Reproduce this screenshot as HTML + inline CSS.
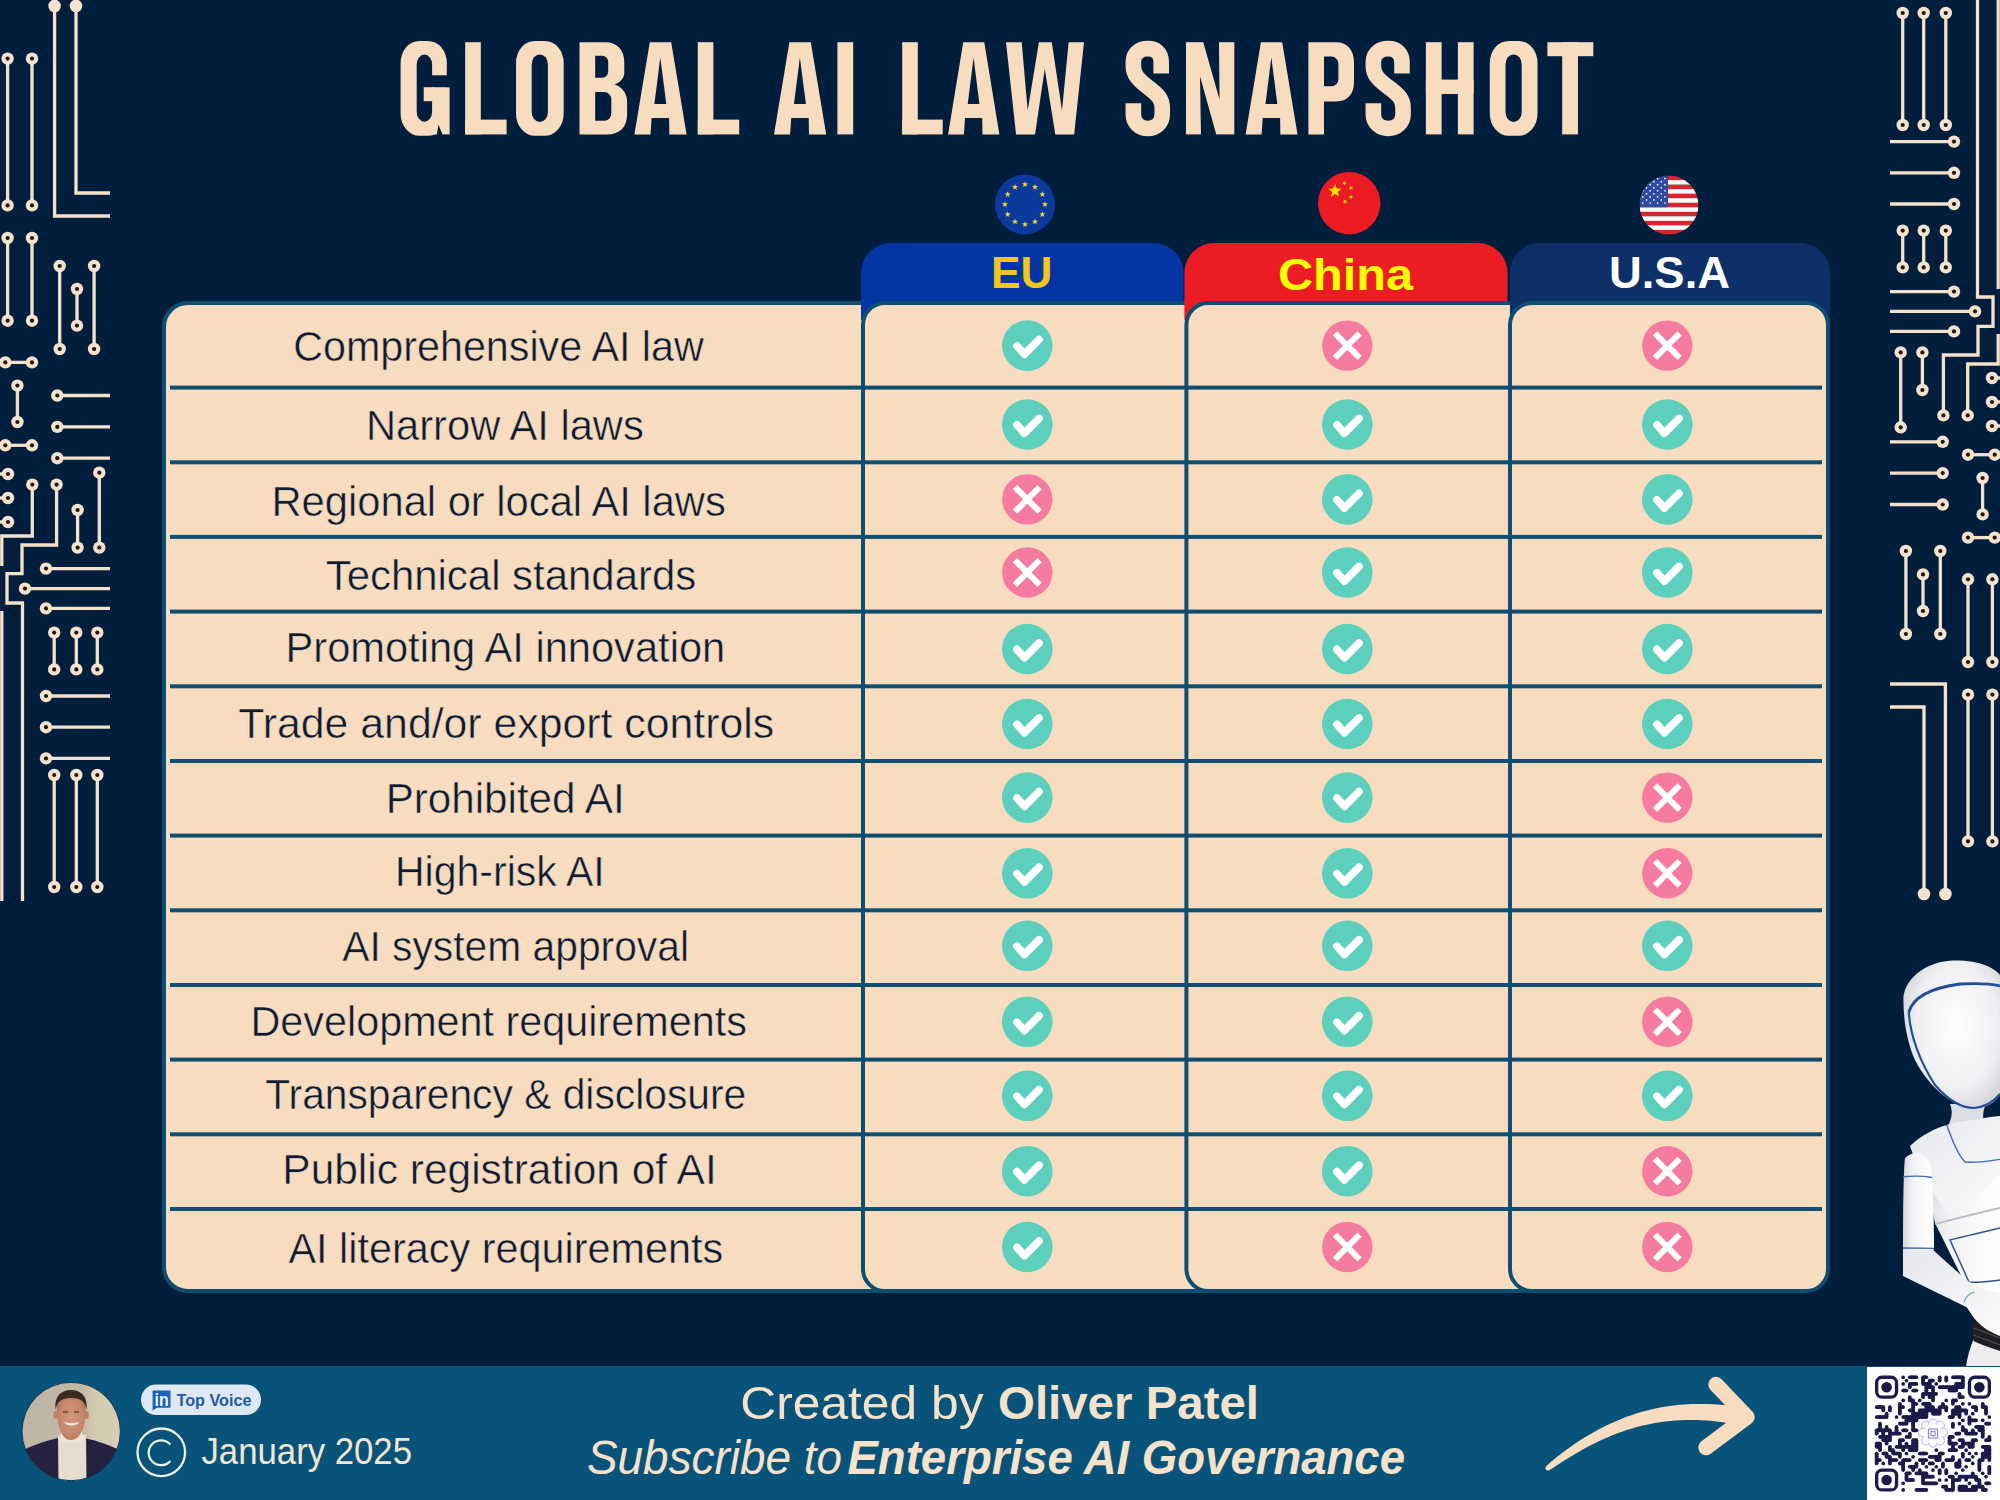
<!DOCTYPE html><html><head><meta charset="utf-8"><title>Global AI Law Snapshot</title>
<style>html,body{margin:0;padding:0;background:#011f3c;}body{width:2000px;height:1500px;overflow:hidden;}svg{display:block;}text{font-family:"Liberation Sans",sans-serif;}</style></head><body>
<svg width="2000" height="1500" viewBox="0 0 2000 1500">
<rect width="2000" height="1500" fill="#011f3c"/>
<defs><g id="circ"><g fill="none" stroke="#f4e2cd" stroke-width="3.3"><path d="M54.6,6 L54.6,216 L110,216"/><path d="M76,6 L76,193 L110,193"/><path d="M7.6,58.6 L7.6,205.4"/><path d="M7.6,238 L7.6,320.7"/><path d="M32,58.6 L32,205.4"/><path d="M32,238 L32,320.7"/><path d="M59.7,266 L59.7,349"/><path d="M77,289 L77,325.6"/><path d="M94.1,266 L94.1,349"/><path d="M5.3,362.4 L32,362.4"/><path d="M17.4,385.6 L17.4,422"/><path d="M57.3,395.5 L110,395.5"/><path d="M57.3,426.9 L110,426.9"/><path d="M57.3,458.2 L110,458.2"/><path d="M5.3,445.3 L32,445.3"/><path d="M-2,474 L8,474"/><path d="M-2,498 L8,498"/><path d="M-2,522 L8,522"/><path d="M99.3,472.7 L99.3,547.6"/><path d="M77.6,510 L77.6,547.6"/><path d="M32.3,484.6 L32.3,536 L1.8,536 L1.8,566"/><path d="M56.6,484.6 L56.6,545 L22,545 L22,573.6 L7,573.6 L7,603 L22.5,603 L22.5,901"/><path d="M46,568.6 L110,568.6"/><path d="M25,588.6 L110,588.6"/><path d="M46,608.4 L110,608.4"/><path d="M1.8,611 L1.8,901"/><path d="M54.2,632.6 L54.2,669.4"/><path d="M76.3,632.6 L76.3,669.4"/><path d="M97.3,632.6 L97.3,669.4"/><path d="M46,696 L110,696"/><path d="M46,727.2 L110,727.2"/><path d="M46,758.4 L110,758.4"/><path d="M54.2,775 L54.2,887"/><path d="M76.3,775 L76.3,887"/><path d="M97.3,775 L97.3,887"/></g><circle cx="54.6" cy="6" r="6.3" fill="#f4e2cd"/><circle cx="76" cy="6" r="6.3" fill="#f4e2cd"/><circle cx="7.6" cy="58.6" r="6.2" fill="#f4e2cd"/><circle cx="7.6" cy="58.6" r="2.1" fill="#22160f"/><circle cx="7.6" cy="205.4" r="6.2" fill="#f4e2cd"/><circle cx="7.6" cy="205.4" r="2.1" fill="#22160f"/><circle cx="7.6" cy="238" r="6.2" fill="#f4e2cd"/><circle cx="7.6" cy="238" r="2.1" fill="#22160f"/><circle cx="7.6" cy="320.7" r="6.2" fill="#f4e2cd"/><circle cx="7.6" cy="320.7" r="2.1" fill="#22160f"/><circle cx="32" cy="58.6" r="6.2" fill="#f4e2cd"/><circle cx="32" cy="58.6" r="2.1" fill="#22160f"/><circle cx="32" cy="205.4" r="6.2" fill="#f4e2cd"/><circle cx="32" cy="205.4" r="2.1" fill="#22160f"/><circle cx="32" cy="238" r="6.2" fill="#f4e2cd"/><circle cx="32" cy="238" r="2.1" fill="#22160f"/><circle cx="32" cy="320.7" r="6.2" fill="#f4e2cd"/><circle cx="32" cy="320.7" r="2.1" fill="#22160f"/><circle cx="59.7" cy="266" r="6.2" fill="#f4e2cd"/><circle cx="59.7" cy="266" r="2.1" fill="#22160f"/><circle cx="59.7" cy="349" r="6.2" fill="#f4e2cd"/><circle cx="59.7" cy="349" r="2.1" fill="#22160f"/><circle cx="77" cy="289" r="6.2" fill="#f4e2cd"/><circle cx="77" cy="289" r="2.1" fill="#22160f"/><circle cx="77" cy="325.6" r="6.2" fill="#f4e2cd"/><circle cx="77" cy="325.6" r="2.1" fill="#22160f"/><circle cx="94.1" cy="266" r="6.2" fill="#f4e2cd"/><circle cx="94.1" cy="266" r="2.1" fill="#22160f"/><circle cx="94.1" cy="349" r="6.2" fill="#f4e2cd"/><circle cx="94.1" cy="349" r="2.1" fill="#22160f"/><circle cx="5.3" cy="362.4" r="6.2" fill="#f4e2cd"/><circle cx="5.3" cy="362.4" r="2.1" fill="#22160f"/><circle cx="32" cy="362.4" r="6.2" fill="#f4e2cd"/><circle cx="32" cy="362.4" r="2.1" fill="#22160f"/><circle cx="17.4" cy="385.6" r="6.2" fill="#f4e2cd"/><circle cx="17.4" cy="385.6" r="2.1" fill="#22160f"/><circle cx="17.4" cy="422" r="6.2" fill="#f4e2cd"/><circle cx="17.4" cy="422" r="2.1" fill="#22160f"/><circle cx="57.3" cy="395.5" r="6.2" fill="#f4e2cd"/><circle cx="57.3" cy="395.5" r="2.1" fill="#22160f"/><circle cx="57.3" cy="426.9" r="6.2" fill="#f4e2cd"/><circle cx="57.3" cy="426.9" r="2.1" fill="#22160f"/><circle cx="57.3" cy="458.2" r="6.2" fill="#f4e2cd"/><circle cx="57.3" cy="458.2" r="2.1" fill="#22160f"/><circle cx="5.3" cy="445.3" r="6.2" fill="#f4e2cd"/><circle cx="5.3" cy="445.3" r="2.1" fill="#22160f"/><circle cx="32" cy="445.3" r="6.2" fill="#f4e2cd"/><circle cx="32" cy="445.3" r="2.1" fill="#22160f"/><circle cx="8" cy="474" r="6.2" fill="#f4e2cd"/><circle cx="8" cy="474" r="2.1" fill="#22160f"/><circle cx="8" cy="498" r="6.2" fill="#f4e2cd"/><circle cx="8" cy="498" r="2.1" fill="#22160f"/><circle cx="8" cy="522" r="6.2" fill="#f4e2cd"/><circle cx="8" cy="522" r="2.1" fill="#22160f"/><circle cx="99.3" cy="472.7" r="6.2" fill="#f4e2cd"/><circle cx="99.3" cy="472.7" r="2.1" fill="#22160f"/><circle cx="99.3" cy="547.6" r="6.2" fill="#f4e2cd"/><circle cx="99.3" cy="547.6" r="2.1" fill="#22160f"/><circle cx="77.6" cy="510" r="6.2" fill="#f4e2cd"/><circle cx="77.6" cy="510" r="2.1" fill="#22160f"/><circle cx="77.6" cy="547.6" r="6.2" fill="#f4e2cd"/><circle cx="77.6" cy="547.6" r="2.1" fill="#22160f"/><circle cx="32.3" cy="484.6" r="6.2" fill="#f4e2cd"/><circle cx="32.3" cy="484.6" r="2.1" fill="#22160f"/><circle cx="56.6" cy="484.6" r="6.2" fill="#f4e2cd"/><circle cx="56.6" cy="484.6" r="2.1" fill="#22160f"/><circle cx="46" cy="568.6" r="6.2" fill="#f4e2cd"/><circle cx="46" cy="568.6" r="2.1" fill="#22160f"/><circle cx="25" cy="588.6" r="6.2" fill="#f4e2cd"/><circle cx="25" cy="588.6" r="2.1" fill="#22160f"/><circle cx="46" cy="608.4" r="6.2" fill="#f4e2cd"/><circle cx="46" cy="608.4" r="2.1" fill="#22160f"/><circle cx="54.2" cy="632.6" r="6.2" fill="#f4e2cd"/><circle cx="54.2" cy="632.6" r="2.1" fill="#22160f"/><circle cx="54.2" cy="669.4" r="6.2" fill="#f4e2cd"/><circle cx="54.2" cy="669.4" r="2.1" fill="#22160f"/><circle cx="76.3" cy="632.6" r="6.2" fill="#f4e2cd"/><circle cx="76.3" cy="632.6" r="2.1" fill="#22160f"/><circle cx="76.3" cy="669.4" r="6.2" fill="#f4e2cd"/><circle cx="76.3" cy="669.4" r="2.1" fill="#22160f"/><circle cx="97.3" cy="632.6" r="6.2" fill="#f4e2cd"/><circle cx="97.3" cy="632.6" r="2.1" fill="#22160f"/><circle cx="97.3" cy="669.4" r="6.2" fill="#f4e2cd"/><circle cx="97.3" cy="669.4" r="2.1" fill="#22160f"/><circle cx="46" cy="696" r="6.2" fill="#f4e2cd"/><circle cx="46" cy="696" r="2.1" fill="#22160f"/><circle cx="46" cy="727.2" r="6.2" fill="#f4e2cd"/><circle cx="46" cy="727.2" r="2.1" fill="#22160f"/><circle cx="46" cy="758.4" r="6.2" fill="#f4e2cd"/><circle cx="46" cy="758.4" r="2.1" fill="#22160f"/><circle cx="54.2" cy="775" r="6.2" fill="#f4e2cd"/><circle cx="54.2" cy="775" r="2.1" fill="#22160f"/><circle cx="54.2" cy="887" r="6.2" fill="#f4e2cd"/><circle cx="54.2" cy="887" r="2.1" fill="#22160f"/><circle cx="76.3" cy="775" r="6.2" fill="#f4e2cd"/><circle cx="76.3" cy="775" r="2.1" fill="#22160f"/><circle cx="76.3" cy="887" r="6.2" fill="#f4e2cd"/><circle cx="76.3" cy="887" r="2.1" fill="#22160f"/><circle cx="97.3" cy="775" r="6.2" fill="#f4e2cd"/><circle cx="97.3" cy="775" r="2.1" fill="#22160f"/><circle cx="97.3" cy="887" r="6.2" fill="#f4e2cd"/><circle cx="97.3" cy="887" r="2.1" fill="#22160f"/></g></defs>
<use href="#circ"/>
<use href="#circ" transform="rotate(180 1000 450)"/>
<g><rect x="400.60" y="40.90" width="46.20" height="94.90" rx="19" ry="22" fill="#f8dcc0"/><rect x="433.50" y="87.20" width="16.10" height="47.20" fill="#f8dcc0"/><rect x="416.70" y="54.60" width="15.40" height="67.20" rx="7.7" ry="10" fill="#011f3c"/><rect x="431.10" y="75.30" width="19.50" height="11.90" fill="#011f3c"/><rect x="423.70" y="87.20" width="9.90" height="14.00" fill="#f8dcc0"/><polygon points="438.40,124.80 442.60,134.40 442.60,136.40 436.60,136.40" fill="#011f3c"/><rect x="465.20" y="42.20" width="15.60" height="92.20" fill="#f8dcc0"/><rect x="465.20" y="119.60" width="41.40" height="14.80" fill="#f8dcc0"/><rect x="516.00" y="40.90" width="47.70" height="94.90" rx="19" ry="22" fill="#f8dcc0"/><rect x="531.70" y="54.40" width="16.20" height="67.50" rx="8" ry="10" fill="#011f3c"/><path d="M579.50,42.2 H605.50 C617.50,42.2 624.30,50.2 624.30,62.2 V72.2 C624.30,78.2 620.50,82.2 614.50,84.2 C622.50,87.2 627.10,93.2 627.10,102.2 V114.4 C627.10,127.4 619.50,134.4 606.50,134.4 H579.50 Z" fill="#f8dcc0"/><path d="M595.20,55.7 H602.20 A6,6 0 0 1 608.20,61.7 V71.7 A6,6 0 0 1 602.20,77.7 H595.20 Z" fill="#011f3c"/><path d="M595.20,92.1 H604.30 A7,7 0 0 1 611.30,99.1 V113.8 A7,7 0 0 1 604.30,120.8 H595.20 Z" fill="#011f3c"/><polygon points="634.40,134.40 649.80,42.20 671.20,42.20 686.60,134.40 669.37,134.40 669.11,117.99 651.63,117.99 650.48,134.40" fill="#f8dcc0"/><polygon points="660.29,57.60 666.29,104.07 654.39,104.07" fill="#011f3c"/><rect x="697.80" y="42.20" width="15.60" height="92.20" fill="#f8dcc0"/><rect x="697.80" y="119.60" width="41.40" height="14.80" fill="#f8dcc0"/><polygon points="774.00,134.40 789.40,42.20 810.80,42.20 826.20,134.40 808.97,134.40 808.71,117.99 791.23,117.99 790.08,134.40" fill="#f8dcc0"/><polygon points="799.89,57.60 805.89,104.07 793.99,104.07" fill="#011f3c"/><rect x="837.40" y="42.20" width="15.80" height="92.20" fill="#f8dcc0"/><rect x="902.20" y="42.20" width="15.60" height="92.20" fill="#f8dcc0"/><rect x="902.20" y="119.60" width="40.50" height="14.80" fill="#f8dcc0"/><polygon points="948.10,134.40 963.23,42.20 984.27,42.20 999.40,134.40 982.47,134.40 982.21,117.99 965.03,117.99 963.90,134.40" fill="#f8dcc0"/><polygon points="973.54,57.60 979.44,104.07 967.75,104.07" fill="#011f3c"/><polygon points="1006.00,42.20 1021.68,42.20 1027.68,110.61 1038.92,42.20 1051.79,42.20 1062.00,110.61 1068.63,42.20 1084.00,42.20 1074.17,134.40 1055.30,134.40 1044.77,68.75 1035.02,134.40 1016.06,134.40" fill="#f8dcc0"/><path d="M1161.20,73.4 V62 C1161.20,53 1155.80,48.65 1147.80,48.65 C1139.80,48.65 1133.35,53 1133.35,62 V66 C1133.35,74 1137.35,79 1147.80,87 C1158.25,95 1162.25,99 1162.25,108 V114 C1162.25,123 1155.80,128.45 1147.80,128.45 C1139.80,128.45 1133.35,123 1133.35,114 V103.2" fill="none" stroke="#f8dcc0" stroke-width="15.6"/><rect x="1186.00" y="42.20" width="48.30" height="92.20" fill="#f8dcc0"/><polygon points="1203.10,41.70 1218.99,41.70 1219.52,99.58" fill="#011f3c"/><polygon points="1200.01,76.28 1200.97,134.90 1216.38,134.90" fill="#011f3c"/><polygon points="1245.60,134.40 1260.91,42.20 1282.19,42.20 1297.50,134.40 1280.37,134.40 1280.11,117.99 1262.73,117.99 1261.59,134.40" fill="#f8dcc0"/><polygon points="1271.34,57.60 1277.31,104.07 1265.48,104.07" fill="#011f3c"/><path d="M1308.40,134.4 V42.2 H1336.40 C1347.40,42.2 1354.00,50.2 1354.00,62.2 V82.2 C1354.00,94.2 1347.40,101.4 1336.40,101.4 H1324.00 V134.4 Z" fill="#f8dcc0"/><path d="M1324.00,56.6 H1331.40 A7,7 0 0 1 1338.40,63.6 V79.2 A7,7 0 0 1 1331.40,86.2 H1324.00 Z" fill="#011f3c"/><path d="M1402.00,73.4 V62 C1402.00,53 1396.20,48.65 1388.20,48.65 C1380.20,48.65 1373.35,53 1373.35,62 V66 C1373.35,74 1377.35,79 1388.20,87 C1399.05,95 1403.05,99 1403.05,108 V114 C1403.05,123 1396.20,128.45 1388.20,128.45 C1380.20,128.45 1373.35,123 1373.35,114 V103.2" fill="none" stroke="#f8dcc0" stroke-width="15.6"/><rect x="1425.90" y="42.20" width="15.70" height="92.20" fill="#f8dcc0"/><rect x="1457.90" y="42.20" width="15.70" height="92.20" fill="#f8dcc0"/><rect x="1425.90" y="79.60" width="47.70" height="14.40" fill="#f8dcc0"/><rect x="1489.80" y="40.90" width="47.70" height="94.90" rx="19" ry="22" fill="#f8dcc0"/><rect x="1505.50" y="54.40" width="16.20" height="67.50" rx="8" ry="10" fill="#011f3c"/><rect x="1547.40" y="42.20" width="45.90" height="14.00" fill="#f8dcc0"/><rect x="1562.17" y="42.20" width="15.80" height="92.20" fill="#f8dcc0"/></g>
<circle cx="1025" cy="204.4" r="30" fill="#0b3a9c"/><polygon points="1025.00,181.20 1025.79,183.31 1028.04,183.41 1026.28,184.82 1026.88,186.99 1025.00,185.74 1023.12,186.99 1023.72,184.82 1021.96,183.41 1024.21,183.31" fill="#f2d22e"/><polygon points="1035.00,183.88 1035.79,185.99 1038.04,186.09 1036.28,187.49 1036.88,189.67 1035.00,188.42 1033.12,189.67 1033.72,187.49 1031.96,186.09 1034.21,185.99" fill="#f2d22e"/><polygon points="1042.32,191.20 1043.11,193.31 1045.36,193.41 1043.60,194.82 1044.20,196.99 1042.32,195.74 1040.44,196.99 1041.04,194.82 1039.28,193.41 1041.53,193.31" fill="#f2d22e"/><polygon points="1045.00,201.20 1045.79,203.31 1048.04,203.41 1046.28,204.82 1046.88,206.99 1045.00,205.74 1043.12,206.99 1043.72,204.82 1041.96,203.41 1044.21,203.31" fill="#f2d22e"/><polygon points="1042.32,211.20 1043.11,213.31 1045.36,213.41 1043.60,214.82 1044.20,216.99 1042.32,215.74 1040.44,216.99 1041.04,214.82 1039.28,213.41 1041.53,213.31" fill="#f2d22e"/><polygon points="1035.00,218.52 1035.79,220.63 1038.04,220.73 1036.28,222.14 1036.88,224.31 1035.00,223.06 1033.12,224.31 1033.72,222.14 1031.96,220.73 1034.21,220.63" fill="#f2d22e"/><polygon points="1025.00,221.20 1025.79,223.31 1028.04,223.41 1026.28,224.82 1026.88,226.99 1025.00,225.74 1023.12,226.99 1023.72,224.82 1021.96,223.41 1024.21,223.31" fill="#f2d22e"/><polygon points="1015.00,218.52 1015.79,220.63 1018.04,220.73 1016.28,222.14 1016.88,224.31 1015.00,223.06 1013.12,224.31 1013.72,222.14 1011.96,220.73 1014.21,220.63" fill="#f2d22e"/><polygon points="1007.68,211.20 1008.47,213.31 1010.72,213.41 1008.96,214.82 1009.56,216.99 1007.68,215.74 1005.80,216.99 1006.40,214.82 1004.64,213.41 1006.89,213.31" fill="#f2d22e"/><polygon points="1005.00,201.20 1005.79,203.31 1008.04,203.41 1006.28,204.82 1006.88,206.99 1005.00,205.74 1003.12,206.99 1003.72,204.82 1001.96,203.41 1004.21,203.31" fill="#f2d22e"/><polygon points="1007.68,191.20 1008.47,193.31 1010.72,193.41 1008.96,194.82 1009.56,196.99 1007.68,195.74 1005.80,196.99 1006.40,194.82 1004.64,193.41 1006.89,193.31" fill="#f2d22e"/><polygon points="1015.00,183.88 1015.79,185.99 1018.04,186.09 1016.28,187.49 1016.88,189.67 1015.00,188.42 1013.12,189.67 1013.72,187.49 1011.96,186.09 1014.21,185.99" fill="#f2d22e"/>
<circle cx="1349.2" cy="203.2" r="31.2" fill="#ed1c24"/><polygon points="1335.00,184.00 1336.73,188.62 1341.66,188.84 1337.80,191.91 1339.11,196.66 1335.00,193.94 1330.89,196.66 1332.20,191.91 1328.34,188.84 1333.27,188.62" fill="#ffde00"/><polygon points="1345.33,180.79 1345.26,182.48 1346.79,183.21 1345.16,183.66 1344.94,185.34 1344.01,183.93 1342.34,184.24 1343.40,182.91 1342.59,181.43 1344.17,182.02" fill="#ffde00"/><polygon points="1352.72,186.33 1352.00,187.86 1353.12,189.12 1351.44,188.90 1350.59,190.36 1350.28,188.70 1348.62,188.34 1350.11,187.53 1349.94,185.85 1351.17,187.01" fill="#ffde00"/><polygon points="1353.37,196.59 1351.90,197.45 1352.12,199.12 1350.86,198.00 1349.33,198.72 1350.01,197.17 1348.85,195.94 1350.53,196.11 1351.34,194.62 1351.70,196.28" fill="#ffde00"/><polygon points="1347.27,202.38 1345.58,202.42 1344.96,204.00 1344.40,202.41 1342.71,202.31 1344.05,201.27 1343.62,199.64 1345.02,200.59 1346.44,199.68 1345.96,201.30" fill="#ffde00"/>
<defs><clipPath id="usc"><circle cx="1669" cy="205" r="29.4"/></clipPath></defs><g clip-path="url(#usc)"><rect x="1639.6" y="175.60" width="58.8" height="4.72" fill="#d8262e"/><rect x="1639.6" y="180.12" width="58.8" height="4.72" fill="#ffffff"/><rect x="1639.6" y="184.65" width="58.8" height="4.72" fill="#d8262e"/><rect x="1639.6" y="189.17" width="58.8" height="4.72" fill="#ffffff"/><rect x="1639.6" y="193.69" width="58.8" height="4.72" fill="#d8262e"/><rect x="1639.6" y="198.22" width="58.8" height="4.72" fill="#ffffff"/><rect x="1639.6" y="202.74" width="58.8" height="4.72" fill="#d8262e"/><rect x="1639.6" y="207.26" width="58.8" height="4.72" fill="#ffffff"/><rect x="1639.6" y="211.78" width="58.8" height="4.72" fill="#d8262e"/><rect x="1639.6" y="216.31" width="58.8" height="4.72" fill="#ffffff"/><rect x="1639.6" y="220.83" width="58.8" height="4.72" fill="#d8262e"/><rect x="1639.6" y="225.35" width="58.8" height="4.72" fill="#ffffff"/><rect x="1639.6" y="229.88" width="58.8" height="4.72" fill="#d8262e"/><rect x="1639.6" y="175.6" width="28.4" height="31.66" fill="#2d4aa0"/><circle cx="1642.8" cy="203.0" r="0.85" fill="#fff"/><circle cx="1650.2" cy="203.0" r="0.85" fill="#fff"/><circle cx="1657.6" cy="203.0" r="0.85" fill="#fff"/><circle cx="1665.0" cy="203.0" r="0.85" fill="#fff"/><circle cx="1646.5" cy="199.9" r="0.85" fill="#fff"/><circle cx="1653.9" cy="199.9" r="0.85" fill="#fff"/><circle cx="1661.3" cy="199.9" r="0.85" fill="#fff"/><circle cx="1642.8" cy="196.9" r="0.85" fill="#fff"/><circle cx="1650.2" cy="196.9" r="0.85" fill="#fff"/><circle cx="1657.6" cy="196.9" r="0.85" fill="#fff"/><circle cx="1665.0" cy="196.9" r="0.85" fill="#fff"/><circle cx="1646.5" cy="193.8" r="0.85" fill="#fff"/><circle cx="1653.9" cy="193.8" r="0.85" fill="#fff"/><circle cx="1661.3" cy="193.8" r="0.85" fill="#fff"/><circle cx="1642.8" cy="190.8" r="0.85" fill="#fff"/><circle cx="1650.2" cy="190.8" r="0.85" fill="#fff"/><circle cx="1657.6" cy="190.8" r="0.85" fill="#fff"/><circle cx="1665.0" cy="190.8" r="0.85" fill="#fff"/><circle cx="1646.5" cy="187.8" r="0.85" fill="#fff"/><circle cx="1653.9" cy="187.8" r="0.85" fill="#fff"/><circle cx="1661.3" cy="187.8" r="0.85" fill="#fff"/><circle cx="1642.8" cy="184.7" r="0.85" fill="#fff"/><circle cx="1650.2" cy="184.7" r="0.85" fill="#fff"/><circle cx="1657.6" cy="184.7" r="0.85" fill="#fff"/><circle cx="1665.0" cy="184.7" r="0.85" fill="#fff"/><circle cx="1646.5" cy="181.7" r="0.85" fill="#fff"/><circle cx="1653.9" cy="181.7" r="0.85" fill="#fff"/><circle cx="1661.3" cy="181.7" r="0.85" fill="#fff"/><circle cx="1642.8" cy="178.6" r="0.85" fill="#fff"/><circle cx="1650.2" cy="178.6" r="0.85" fill="#fff"/><circle cx="1657.6" cy="178.6" r="0.85" fill="#fff"/><circle cx="1665.0" cy="178.6" r="0.85" fill="#fff"/></g>
<rect x="164.0" y="303.0" width="834" height="988" rx="24" ry="24" fill="#f8dcc0" stroke="#0e4e71" stroke-width="4"/>
<path d="M861,320 V273 A30,30 0 0 1 891,243 H1153.5 A30,30 0 0 1 1183.5,273 V320 Z" fill="#0535a3"/>
<rect x="863.0" y="303.0" width="375" height="988" rx="22" ry="22" fill="#f8dcc0" stroke="#0e4e71" stroke-width="4"/>
<path d="M1184.4,320 V273 A30,30 0 0 1 1214.4,243 H1477.6 A30,30 0 0 1 1507.6,273 V320 Z" fill="#ec1c24"/>
<rect x="1186.4" y="303.0" width="371.5999999999999" height="988" rx="22" ry="22" fill="#f8dcc0" stroke="#0e4e71" stroke-width="4"/>
<path d="M1510,320 V273 A30,30 0 0 1 1540,243 H1800 A30,30 0 0 1 1830,273 V320 Z" fill="#0e3068"/>
<rect x="1510.0" y="303.0" width="318" height="988" rx="22" ry="22" fill="#f8dcc0" stroke="#0e4e71" stroke-width="4"/>
<text x="991.00" y="288" font-size="43.6" font-weight="700" fill="#f4c51c" textLength="61.40" lengthAdjust="spacingAndGlyphs">EU</text>
<text x="1278.00" y="289.5" font-size="45" font-weight="700" fill="#ffff00" textLength="135.00" lengthAdjust="spacingAndGlyphs">China</text>
<text x="1609.00" y="288" font-size="43.6" font-weight="700" fill="#ffffff" textLength="121.00" lengthAdjust="spacingAndGlyphs">U.S.A</text>
<rect x="170" y="385.6" width="1652" height="4" fill="#0e4e71"/>
<rect x="170" y="460.3" width="1652" height="4" fill="#0e4e71"/>
<rect x="170" y="534.9" width="1652" height="4" fill="#0e4e71"/>
<rect x="170" y="609.6" width="1652" height="4" fill="#0e4e71"/>
<rect x="170" y="684.3" width="1652" height="4" fill="#0e4e71"/>
<rect x="170" y="759.0" width="1652" height="4" fill="#0e4e71"/>
<rect x="170" y="833.6" width="1652" height="4" fill="#0e4e71"/>
<rect x="170" y="908.3" width="1652" height="4" fill="#0e4e71"/>
<rect x="170" y="983.0" width="1652" height="4" fill="#0e4e71"/>
<rect x="170" y="1057.6" width="1652" height="4" fill="#0e4e71"/>
<rect x="170" y="1132.3" width="1652" height="4" fill="#0e4e71"/>
<rect x="170" y="1207.0" width="1652" height="4" fill="#0e4e71"/>
<text x="293.20" y="360.8" font-size="42" fill="#0b1c33" stroke="#f8dcc0" stroke-width="0.5" textLength="410.60" lengthAdjust="spacingAndGlyphs">Comprehensive AI law</text>
<text x="366.00" y="440.2" font-size="42" fill="#0b1c33" stroke="#f8dcc0" stroke-width="0.5" textLength="277.70" lengthAdjust="spacingAndGlyphs">Narrow AI laws</text>
<text x="271.50" y="515.5" font-size="42" fill="#0b1c33" stroke="#f8dcc0" stroke-width="0.5" textLength="454.30" lengthAdjust="spacingAndGlyphs">Regional or local AI laws</text>
<text x="325.70" y="590" font-size="42" fill="#0b1c33" stroke="#f8dcc0" stroke-width="0.5" textLength="370.50" lengthAdjust="spacingAndGlyphs">Technical standards</text>
<text x="285.50" y="662.3" font-size="42" fill="#0b1c33" stroke="#f8dcc0" stroke-width="0.5" textLength="439.70" lengthAdjust="spacingAndGlyphs">Promoting AI innovation</text>
<text x="238.20" y="737.5" font-size="42" fill="#0b1c33" stroke="#f8dcc0" stroke-width="0.5" textLength="536.00" lengthAdjust="spacingAndGlyphs">Trade and/or export controls</text>
<text x="385.70" y="812.8" font-size="42" fill="#0b1c33" stroke="#f8dcc0" stroke-width="0.5" textLength="239.00" lengthAdjust="spacingAndGlyphs">Prohibited AI</text>
<text x="395.00" y="886.3" font-size="42" fill="#0b1c33" stroke="#f8dcc0" stroke-width="0.5" textLength="209.70" lengthAdjust="spacingAndGlyphs">High-risk AI</text>
<text x="342.20" y="960.5" font-size="42" fill="#0b1c33" stroke="#f8dcc0" stroke-width="0.5" textLength="346.80" lengthAdjust="spacingAndGlyphs">AI system approval</text>
<text x="250.50" y="1035.8" font-size="42" fill="#0b1c33" stroke="#f8dcc0" stroke-width="0.5" textLength="496.30" lengthAdjust="spacingAndGlyphs">Development requirements</text>
<text x="265.20" y="1109.3" font-size="42" fill="#0b1c33" stroke="#f8dcc0" stroke-width="0.5" textLength="481.00" lengthAdjust="spacingAndGlyphs">Transparency &amp; disclosure</text>
<text x="282.30" y="1183.8" font-size="42" fill="#0b1c33" stroke="#f8dcc0" stroke-width="0.5" textLength="434.40" lengthAdjust="spacingAndGlyphs">Public registration of AI</text>
<text x="288.50" y="1263" font-size="42" fill="#0b1c33" stroke="#f8dcc0" stroke-width="0.5" textLength="434.70" lengthAdjust="spacingAndGlyphs">AI literacy requirements</text>
<circle cx="1027.3" cy="345.6" r="25.3" fill="#5dcfbd"/><path d="M1017.0,346.0 L1024.4,354.3 L1039.0,339.6" fill="none" stroke="#fff" stroke-width="7.6" stroke-linecap="round" stroke-linejoin="round"/>
<circle cx="1347.3" cy="345.6" r="25.2" fill="#f67ba0"/><path d="M1335.0,333.3 L1359.6,357.9 M1359.6,333.3 L1335.0,357.9" fill="none" stroke="#fff" stroke-width="6"/>
<circle cx="1667.3" cy="345.6" r="25.2" fill="#f67ba0"/><path d="M1655.0,333.3 L1679.6,357.9 M1679.6,333.3 L1655.0,357.9" fill="none" stroke="#fff" stroke-width="6"/>
<circle cx="1027.3" cy="424.5" r="25.3" fill="#5dcfbd"/><path d="M1017.0,424.9 L1024.4,433.2 L1039.0,418.5" fill="none" stroke="#fff" stroke-width="7.6" stroke-linecap="round" stroke-linejoin="round"/>
<circle cx="1347.3" cy="424.5" r="25.3" fill="#5dcfbd"/><path d="M1337.0,424.9 L1344.4,433.2 L1359.0,418.5" fill="none" stroke="#fff" stroke-width="7.6" stroke-linecap="round" stroke-linejoin="round"/>
<circle cx="1667.3" cy="424.5" r="25.3" fill="#5dcfbd"/><path d="M1657.0,424.9 L1664.4,433.2 L1679.0,418.5" fill="none" stroke="#fff" stroke-width="7.6" stroke-linecap="round" stroke-linejoin="round"/>
<circle cx="1027.3" cy="499.4" r="25.2" fill="#f67ba0"/><path d="M1015.0,487.1 L1039.6,511.7 M1039.6,487.1 L1015.0,511.7" fill="none" stroke="#fff" stroke-width="6"/>
<circle cx="1347.3" cy="499.4" r="25.3" fill="#5dcfbd"/><path d="M1337.0,499.8 L1344.4,508.1 L1359.0,493.4" fill="none" stroke="#fff" stroke-width="7.6" stroke-linecap="round" stroke-linejoin="round"/>
<circle cx="1667.3" cy="499.4" r="25.3" fill="#5dcfbd"/><path d="M1657.0,499.8 L1664.4,508.1 L1679.0,493.4" fill="none" stroke="#fff" stroke-width="7.6" stroke-linecap="round" stroke-linejoin="round"/>
<circle cx="1027.3" cy="572.5" r="25.2" fill="#f67ba0"/><path d="M1015.0,560.2 L1039.6,584.8 M1039.6,560.2 L1015.0,584.8" fill="none" stroke="#fff" stroke-width="6"/>
<circle cx="1347.3" cy="572.5" r="25.3" fill="#5dcfbd"/><path d="M1337.0,572.9 L1344.4,581.2 L1359.0,566.5" fill="none" stroke="#fff" stroke-width="7.6" stroke-linecap="round" stroke-linejoin="round"/>
<circle cx="1667.3" cy="572.5" r="25.3" fill="#5dcfbd"/><path d="M1657.0,572.9 L1664.4,581.2 L1679.0,566.5" fill="none" stroke="#fff" stroke-width="7.6" stroke-linecap="round" stroke-linejoin="round"/>
<circle cx="1027.3" cy="649" r="25.3" fill="#5dcfbd"/><path d="M1017.0,649.4 L1024.4,657.7 L1039.0,643.0" fill="none" stroke="#fff" stroke-width="7.6" stroke-linecap="round" stroke-linejoin="round"/>
<circle cx="1347.3" cy="649" r="25.3" fill="#5dcfbd"/><path d="M1337.0,649.4 L1344.4,657.7 L1359.0,643.0" fill="none" stroke="#fff" stroke-width="7.6" stroke-linecap="round" stroke-linejoin="round"/>
<circle cx="1667.3" cy="649" r="25.3" fill="#5dcfbd"/><path d="M1657.0,649.4 L1664.4,657.7 L1679.0,643.0" fill="none" stroke="#fff" stroke-width="7.6" stroke-linecap="round" stroke-linejoin="round"/>
<circle cx="1027.3" cy="724" r="25.3" fill="#5dcfbd"/><path d="M1017.0,724.4 L1024.4,732.7 L1039.0,718.0" fill="none" stroke="#fff" stroke-width="7.6" stroke-linecap="round" stroke-linejoin="round"/>
<circle cx="1347.3" cy="724" r="25.3" fill="#5dcfbd"/><path d="M1337.0,724.4 L1344.4,732.7 L1359.0,718.0" fill="none" stroke="#fff" stroke-width="7.6" stroke-linecap="round" stroke-linejoin="round"/>
<circle cx="1667.3" cy="724" r="25.3" fill="#5dcfbd"/><path d="M1657.0,724.4 L1664.4,732.7 L1679.0,718.0" fill="none" stroke="#fff" stroke-width="7.6" stroke-linecap="round" stroke-linejoin="round"/>
<circle cx="1027.3" cy="797.6" r="25.3" fill="#5dcfbd"/><path d="M1017.0,798.0 L1024.4,806.3 L1039.0,791.6" fill="none" stroke="#fff" stroke-width="7.6" stroke-linecap="round" stroke-linejoin="round"/>
<circle cx="1347.3" cy="797.6" r="25.3" fill="#5dcfbd"/><path d="M1337.0,798.0 L1344.4,806.3 L1359.0,791.6" fill="none" stroke="#fff" stroke-width="7.6" stroke-linecap="round" stroke-linejoin="round"/>
<circle cx="1667.3" cy="797.6" r="25.2" fill="#f67ba0"/><path d="M1655.0,785.3 L1679.6,809.9 M1679.6,785.3 L1655.0,809.9" fill="none" stroke="#fff" stroke-width="6"/>
<circle cx="1027.3" cy="873.3" r="25.3" fill="#5dcfbd"/><path d="M1017.0,873.7 L1024.4,882.0 L1039.0,867.3" fill="none" stroke="#fff" stroke-width="7.6" stroke-linecap="round" stroke-linejoin="round"/>
<circle cx="1347.3" cy="873.3" r="25.3" fill="#5dcfbd"/><path d="M1337.0,873.7 L1344.4,882.0 L1359.0,867.3" fill="none" stroke="#fff" stroke-width="7.6" stroke-linecap="round" stroke-linejoin="round"/>
<circle cx="1667.3" cy="873.3" r="25.2" fill="#f67ba0"/><path d="M1655.0,861.0 L1679.6,885.6 M1679.6,861.0 L1655.0,885.6" fill="none" stroke="#fff" stroke-width="6"/>
<circle cx="1027.3" cy="945.8" r="25.3" fill="#5dcfbd"/><path d="M1017.0,946.2 L1024.4,954.5 L1039.0,939.8" fill="none" stroke="#fff" stroke-width="7.6" stroke-linecap="round" stroke-linejoin="round"/>
<circle cx="1347.3" cy="945.8" r="25.3" fill="#5dcfbd"/><path d="M1337.0,946.2 L1344.4,954.5 L1359.0,939.8" fill="none" stroke="#fff" stroke-width="7.6" stroke-linecap="round" stroke-linejoin="round"/>
<circle cx="1667.3" cy="945.8" r="25.3" fill="#5dcfbd"/><path d="M1657.0,946.2 L1664.4,954.5 L1679.0,939.8" fill="none" stroke="#fff" stroke-width="7.6" stroke-linecap="round" stroke-linejoin="round"/>
<circle cx="1027.3" cy="1021.8" r="25.3" fill="#5dcfbd"/><path d="M1017.0,1022.2 L1024.4,1030.5 L1039.0,1015.8" fill="none" stroke="#fff" stroke-width="7.6" stroke-linecap="round" stroke-linejoin="round"/>
<circle cx="1347.3" cy="1021.8" r="25.3" fill="#5dcfbd"/><path d="M1337.0,1022.2 L1344.4,1030.5 L1359.0,1015.8" fill="none" stroke="#fff" stroke-width="7.6" stroke-linecap="round" stroke-linejoin="round"/>
<circle cx="1667.3" cy="1021.8" r="25.2" fill="#f67ba0"/><path d="M1655.0,1009.5 L1679.6,1034.1 M1679.6,1009.5 L1655.0,1034.1" fill="none" stroke="#fff" stroke-width="6"/>
<circle cx="1027.3" cy="1095.8" r="25.3" fill="#5dcfbd"/><path d="M1017.0,1096.2 L1024.4,1104.5 L1039.0,1089.8" fill="none" stroke="#fff" stroke-width="7.6" stroke-linecap="round" stroke-linejoin="round"/>
<circle cx="1347.3" cy="1095.8" r="25.3" fill="#5dcfbd"/><path d="M1337.0,1096.2 L1344.4,1104.5 L1359.0,1089.8" fill="none" stroke="#fff" stroke-width="7.6" stroke-linecap="round" stroke-linejoin="round"/>
<circle cx="1667.3" cy="1095.8" r="25.3" fill="#5dcfbd"/><path d="M1657.0,1096.2 L1664.4,1104.5 L1679.0,1089.8" fill="none" stroke="#fff" stroke-width="7.6" stroke-linecap="round" stroke-linejoin="round"/>
<circle cx="1027.3" cy="1171.2" r="25.3" fill="#5dcfbd"/><path d="M1017.0,1171.6 L1024.4,1179.9 L1039.0,1165.2" fill="none" stroke="#fff" stroke-width="7.6" stroke-linecap="round" stroke-linejoin="round"/>
<circle cx="1347.3" cy="1171.2" r="25.3" fill="#5dcfbd"/><path d="M1337.0,1171.6 L1344.4,1179.9 L1359.0,1165.2" fill="none" stroke="#fff" stroke-width="7.6" stroke-linecap="round" stroke-linejoin="round"/>
<circle cx="1667.3" cy="1171.2" r="25.2" fill="#f67ba0"/><path d="M1655.0,1158.9 L1679.6,1183.5 M1679.6,1158.9 L1655.0,1183.5" fill="none" stroke="#fff" stroke-width="6"/>
<circle cx="1027.3" cy="1247" r="25.3" fill="#5dcfbd"/><path d="M1017.0,1247.4 L1024.4,1255.7 L1039.0,1241.0" fill="none" stroke="#fff" stroke-width="7.6" stroke-linecap="round" stroke-linejoin="round"/>
<circle cx="1347.3" cy="1247" r="25.2" fill="#f67ba0"/><path d="M1335.0,1234.7 L1359.6,1259.3 M1359.6,1234.7 L1335.0,1259.3" fill="none" stroke="#fff" stroke-width="6"/>
<circle cx="1667.3" cy="1247" r="25.2" fill="#f67ba0"/><path d="M1655.0,1234.7 L1679.6,1259.3 M1679.6,1234.7 L1655.0,1259.3" fill="none" stroke="#fff" stroke-width="6"/>

<defs>
<linearGradient id="rg" x1="0" y1="0" x2="1" y2="0">
 <stop offset="0" stop-color="#d6d7dc"/><stop offset="0.3" stop-color="#f2f2f4"/><stop offset="1" stop-color="#ffffff"/>
</linearGradient>
<linearGradient id="rg2" x1="0" y1="0" x2="1" y2="1">
 <stop offset="0" stop-color="#e6e7eb"/><stop offset="1" stop-color="#fbfbfc"/>
</linearGradient>
<radialGradient id="rgh" cx="0.55" cy="0.45" r="0.6">
 <stop offset="0" stop-color="#ffffff"/><stop offset="0.7" stop-color="#f0f0f3"/><stop offset="1" stop-color="#d5d6dc"/>
</radialGradient>
<clipPath id="rclip"><rect x="1880" y="940" width="120" height="426"/></clipPath>
</defs>
<g clip-path="url(#rclip)">
 <!-- hip -->
 <path d="M1974,1338 C1970,1348 1967,1358 1966,1367 H2000 V1338 Z" fill="#eeeef1"/>
 <!-- coils -->
 <path d="M1972.5,1321 C1985,1326 1995,1330 2000,1332 V1351 C1990,1348 1980,1344 1973.5,1341 Z" fill="#1f1f22"/>
 <path d="M1973,1328 C1985,1332 1994,1336 2000,1338 M1973,1335 C1985,1339 1994,1343 2000,1345" stroke="#4a4a50" stroke-width="1.2" fill="none"/>
 <!-- torso -->
 <path d="M1925,1140 C1945,1126 1975,1118 2000,1116 V1330 L1968,1292 L1960.4,1274.3 L1935,1223 C1930,1200 1926,1170 1925,1140 Z" fill="url(#rg)"/>
 <path d="M1935,1224 C1960,1218 1985,1211 2000,1208" stroke="#b9bac2" stroke-width="1.8" fill="none"/>
 <path d="M2000,1228 C1985,1232 1965,1236 1950,1240 L1969,1282 C1980,1283 1992,1281 2000,1280" stroke="#2c5590" stroke-width="1.5" fill="none"/>
 <!-- neck -->
 <path d="M1950,1104 C1953,1112 1952,1118 1948,1126 L1985,1126 C1982,1118 1983,1110 1986,1104 Z" fill="#dcdde2"/>
 <!-- shoulder plate -->
 <path d="M1910,1146 C1920,1136 1935,1128 1947.6,1124.7 C1965,1120 1985,1118 2000,1118 V1175 C1985,1190 1965,1205 1950,1212 C1935,1200 1920,1175 1910,1146 Z" fill="url(#rg2)"/>
 <path d="M1946.7,1124.7 C1952,1140 1958,1155 1965,1162 C1975,1163 1990,1161 2000,1159.4" stroke="#3d6db5" stroke-width="1.4" fill="none"/>
 <!-- upper arm -->
 <path d="M1905,1158 C1903,1175 1903,1230 1903,1250 L1934,1250 C1934,1220 1933,1190 1931,1165 C1925,1152 1913,1150 1905,1158 Z" fill="url(#rg)"/>
 <path d="M1903,1176.7 C1912,1176 1924,1176 1932,1177.5" stroke="#3d6db5" stroke-width="1.4" fill="none"/>
 <path d="M1903,1248 C1913,1248 1925,1248 1934,1248.5" stroke="#3d6db5" stroke-width="1.4" fill="none"/>
 <!-- forearm -->
 <path d="M1903,1250 L1933,1250 L1962,1276 C1975,1288 1990,1292 2000,1293 V1336 C1992,1333 1982,1328 1974,1318 L1966.7,1307.3 L1903,1276 Z" fill="url(#rg2)"/>
 <path d="M1964,1302 C1966,1296 1970,1293 1975,1292" stroke="#7a9cd0" stroke-width="1.2" fill="none"/>
 <!-- head -->
 <path d="M1903.4,1000 C1903,982 1922,962 1953,960.5 C1980,960 1995,968 2000,975 V1095 C1994,1104 1985,1108 1973,1108 C1950,1106 1928,1085 1915,1060 C1907,1042 1903.4,1020 1903.4,1000 Z" fill="url(#rgh)"/>
 <path d="M1908.8,1012 C1913,998 1930,988 1960,984 C1978,983 1992,984 2000,986" stroke="#204f98" stroke-width="2.8" fill="none"/>
 <path d="M1908.8,1012 C1910,1035 1920,1062 1935,1085 C1948,1100 1962,1108 1974,1108 C1986,1107 1995,1100 2000,1094" stroke="#204f98" stroke-width="2.2" fill="none"/>
</g>
<rect x="0" y="1366" width="2000" height="134" fill="#075379"/>

<defs><clipPath id="pc"><circle cx="71.2" cy="1431.5" r="49.2"/></clipPath>
<radialGradient id="face" cx="0.5" cy="0.5" r="0.6"><stop offset="0" stop-color="#d49a7c"/><stop offset="0.7" stop-color="#c4856a"/><stop offset="1" stop-color="#a86c54"/></radialGradient>
<linearGradient id="pbg" x1="0" y1="0" x2="1" y2="0"><stop offset="0" stop-color="#bdb5a5"/><stop offset="0.6" stop-color="#c2b9a6"/><stop offset="0.72" stop-color="#d4c9b1"/><stop offset="1" stop-color="#d9ceb5"/></linearGradient></defs>
<g clip-path="url(#pc)">
 <rect x="20" y="1380" width="104" height="104" fill="url(#pbg)"/>
 <path d="M20,1452 C30,1446 45,1441 58,1438 L84,1438 C98,1441 112,1446 124,1452 V1484 H20 Z" fill="#252240"/>
 <path d="M58,1436 C62,1432 82,1432 86,1436 L86.5,1484 L58.5,1484 Z" fill="#e6ddce"/>
 <path d="M61,1430 C61,1426 82,1426 82,1430 L83,1441 C78,1444 66,1444 61,1441 Z" fill="#ece4d6"/>
 <path d="M57,1412 C56,1398 62,1394 71,1394 C80,1394 86,1398 85.5,1412 C85,1428 80,1440 71,1440 C62,1440 58,1428 57,1412 Z" fill="url(#face)"/>
 <ellipse cx="55.5" cy="1415" rx="2.2" ry="4" fill="#bf8164"/>
 <ellipse cx="86.5" cy="1415" rx="2.2" ry="4" fill="#bf8164"/>
 <path d="M55.5,1410 C54,1396 61,1390 71,1390 C81,1390 88,1396 86.5,1410 C85,1402 82,1398 71,1398 C61,1398 57,1402 55.5,1410 Z" fill="#3a2a22"/>
 <path d="M63,1421.5 C67,1427 76,1427 80,1421.5 C76,1423.5 67,1423.5 63,1421.5 Z" fill="#f1e6e0"/>
 <path d="M63,1412 H68 M74,1412 H79" stroke="#6a4636" stroke-width="1.4"/>
</g>
<circle cx="71.2" cy="1431.5" r="49.2" fill="none" stroke="#0a3350" stroke-width="1"/>
<rect x="141" y="1384.5" width="120" height="30.5" rx="15.2" fill="#dde8f4"/>
<path d="M152.6,1390.5 H170.5 V1407.7 H157 L152.6,1410.5 Z" fill="#1a62b8"/>
<text x="154.6" y="1406" font-size="17.5" font-weight="700" fill="#eef4ff" textLength="14.2" lengthAdjust="spacingAndGlyphs">in</text>
<text x="176.50" y="1406.2" font-size="16.5" font-weight="700" fill="#1d5ca6" textLength="75.00" lengthAdjust="spacingAndGlyphs">Top Voice</text>
<circle cx="161.3" cy="1452.3" r="23.8" fill="none" stroke="#eef0ea" stroke-width="2.3"/>
<path d="M169.8,1444 A12.4,12.4 0 1 0 169.8,1461.6" fill="none" stroke="#eef0ea" stroke-width="2.2" stroke-linecap="round"/>
<text x="201.50" y="1463.8" font-size="36" fill="#f1e6d2" textLength="210.50" lengthAdjust="spacingAndGlyphs">January 2025</text>
<text x="740.30" y="1418.8" font-size="47" fill="#f6e2cb" textLength="243.20" lengthAdjust="spacingAndGlyphs">Created by</text>
<text x="998.00" y="1418.8" font-size="47" font-weight="700" fill="#f6e2cb" textLength="261.00" lengthAdjust="spacingAndGlyphs">Oliver Patel</text>
<text x="587.00" y="1473.5" font-size="48" font-style="italic" fill="#f6e2cb" textLength="255.00" lengthAdjust="spacingAndGlyphs">Subscribe to</text>
<text x="847.50" y="1473.5" font-size="48" font-style="italic" font-weight="700" fill="#f6e2cb" textLength="557.50" lengthAdjust="spacingAndGlyphs">Enterprise AI Governance</text>
<path d="M1549.5,1470.0 L1553.7,1467.4 L1557.8,1464.8 L1561.9,1462.1 L1566.0,1459.5 L1570.1,1457.0 L1574.3,1454.5 L1578.5,1452.0 L1582.7,1449.6 L1586.9,1447.3 L1591.2,1445.1 L1595.5,1442.9 L1599.8,1440.8 L1604.2,1438.8 L1608.6,1436.9 L1613.0,1435.1 L1617.5,1433.3 L1622.1,1431.7 L1626.6,1430.1 L1631.2,1428.7 L1635.9,1427.3 L1640.6,1426.1 L1645.4,1424.9 L1650.2,1423.9 L1655.1,1423.0 L1660.0,1422.2 L1665.0,1421.5 L1670.1,1420.9 L1675.2,1420.5 L1680.4,1420.2 L1685.6,1420.0 L1690.9,1419.9 L1696.3,1420.0 L1701.8,1420.2 L1707.3,1420.6 L1712.9,1421.1 L1718.6,1421.7 L1724.4,1422.5 L1730.2,1423.5 L1736.2,1424.6 L1742.3,1425.8 L1745.7,1408.2 L1739.3,1407.1 L1732.9,1406.1 L1726.6,1405.3 L1720.4,1404.7 L1714.3,1404.3 L1708.2,1404.0 L1702.3,1403.9 L1696.4,1403.9 L1690.6,1404.0 L1684.9,1404.4 L1679.3,1404.8 L1673.7,1405.4 L1668.2,1406.2 L1662.8,1407.0 L1657.5,1408.1 L1652.3,1409.2 L1647.1,1410.4 L1642.0,1411.8 L1637.0,1413.3 L1632.1,1414.9 L1627.2,1416.6 L1622.4,1418.4 L1617.7,1420.4 L1613.0,1422.4 L1608.4,1424.5 L1603.9,1426.7 L1599.4,1429.0 L1595.0,1431.4 L1590.6,1433.9 L1586.3,1436.4 L1582.1,1439.1 L1577.9,1441.8 L1573.8,1444.5 L1569.7,1447.4 L1565.7,1450.3 L1561.7,1453.3 L1557.8,1456.3 L1553.9,1459.4 L1550.1,1462.6 L1546.5,1466.0 Z" fill="#f8dcc0"/>
<circle cx="1548" cy="1468" r="2.5" fill="#f8dcc0"/>
<path d="M1716,1384.5 L1747,1417 L1706,1447.5" fill="none" stroke="#f8dcc0" stroke-width="15.5" stroke-linecap="round" stroke-linejoin="round"/>
<g fill="#1e1b4b"><rect x="1867" y="1367" width="133" height="133" fill="#fff"/><circle cx="1903.17" cy="1377.26" r="1.86"/><circle cx="1909.80" cy="1377.26" r="1.86"/><rect x="1909.80" y="1375.40" width="3.31" height="3.71"/><circle cx="1913.11" cy="1377.26" r="1.86"/><rect x="1913.11" y="1375.40" width="3.31" height="3.71"/><circle cx="1916.43" cy="1377.26" r="1.86"/><circle cx="1923.06" cy="1377.26" r="1.86"/><rect x="1923.06" y="1375.40" width="3.31" height="3.71"/><rect x="1921.20" y="1377.26" width="3.71" height="3.31"/><circle cx="1926.37" cy="1377.26" r="1.86"/><circle cx="1939.63" cy="1377.26" r="1.86"/><rect x="1937.77" y="1377.26" width="3.71" height="3.31"/><circle cx="1946.26" cy="1377.26" r="1.86"/><rect x="1944.40" y="1377.26" width="3.71" height="3.31"/><circle cx="1952.89" cy="1377.26" r="1.86"/><rect x="1952.89" y="1375.40" width="3.31" height="3.71"/><circle cx="1956.20" cy="1377.26" r="1.86"/><rect x="1956.20" y="1375.40" width="3.31" height="3.71"/><circle cx="1959.51" cy="1377.26" r="1.86"/><rect x="1959.51" y="1375.40" width="3.31" height="3.71"/><circle cx="1962.83" cy="1377.26" r="1.86"/><rect x="1960.97" y="1377.26" width="3.71" height="3.31"/><circle cx="1906.49" cy="1380.57" r="1.86"/><circle cx="1923.06" cy="1380.57" r="1.86"/><rect x="1921.20" y="1380.57" width="3.71" height="3.31"/><circle cx="1929.69" cy="1380.57" r="1.86"/><rect x="1929.69" y="1378.72" width="3.31" height="3.71"/><rect x="1927.83" y="1380.57" width="3.71" height="3.31"/><circle cx="1933.00" cy="1380.57" r="1.86"/><circle cx="1939.63" cy="1380.57" r="1.86"/><circle cx="1946.26" cy="1380.57" r="1.86"/><circle cx="1962.83" cy="1380.57" r="1.86"/><rect x="1960.97" y="1380.57" width="3.71" height="3.31"/><circle cx="1903.17" cy="1383.89" r="1.86"/><circle cx="1909.80" cy="1383.89" r="1.86"/><rect x="1909.80" y="1382.03" width="3.31" height="3.71"/><rect x="1907.94" y="1383.89" width="3.71" height="3.31"/><circle cx="1913.11" cy="1383.89" r="1.86"/><rect x="1913.11" y="1382.03" width="3.31" height="3.71"/><circle cx="1916.43" cy="1383.89" r="1.86"/><circle cx="1923.06" cy="1383.89" r="1.86"/><rect x="1923.06" y="1382.03" width="3.31" height="3.71"/><circle cx="1926.37" cy="1383.89" r="1.86"/><rect x="1926.37" y="1382.03" width="3.31" height="3.71"/><rect x="1924.52" y="1383.89" width="3.71" height="3.31"/><circle cx="1929.69" cy="1383.89" r="1.86"/><rect x="1927.83" y="1383.89" width="3.71" height="3.31"/><circle cx="1936.31" cy="1383.89" r="1.86"/><circle cx="1956.20" cy="1383.89" r="1.86"/><rect x="1956.20" y="1382.03" width="3.31" height="3.71"/><rect x="1954.34" y="1383.89" width="3.71" height="3.31"/><circle cx="1959.51" cy="1383.89" r="1.86"/><rect x="1959.51" y="1382.03" width="3.31" height="3.71"/><rect x="1957.66" y="1383.89" width="3.71" height="3.31"/><circle cx="1962.83" cy="1383.89" r="1.86"/><rect x="1960.97" y="1383.89" width="3.71" height="3.31"/><circle cx="1909.80" cy="1387.20" r="1.86"/><circle cx="1926.37" cy="1387.20" r="1.86"/><rect x="1926.37" y="1385.34" width="3.31" height="3.71"/><rect x="1924.52" y="1387.20" width="3.71" height="3.31"/><circle cx="1929.69" cy="1387.20" r="1.86"/><rect x="1929.69" y="1385.34" width="3.31" height="3.71"/><circle cx="1933.00" cy="1387.20" r="1.86"/><rect x="1931.14" y="1387.20" width="3.71" height="3.31"/><circle cx="1939.63" cy="1387.20" r="1.86"/><rect x="1939.63" y="1385.34" width="3.31" height="3.71"/><circle cx="1942.94" cy="1387.20" r="1.86"/><rect x="1942.94" y="1385.34" width="3.31" height="3.71"/><circle cx="1946.26" cy="1387.20" r="1.86"/><rect x="1946.26" y="1385.34" width="3.31" height="3.71"/><circle cx="1949.57" cy="1387.20" r="1.86"/><rect x="1949.57" y="1385.34" width="3.31" height="3.71"/><rect x="1947.72" y="1387.20" width="3.71" height="3.31"/><circle cx="1952.89" cy="1387.20" r="1.86"/><rect x="1952.89" y="1385.34" width="3.31" height="3.71"/><rect x="1951.03" y="1387.20" width="3.71" height="3.31"/><circle cx="1956.20" cy="1387.20" r="1.86"/><rect x="1956.20" y="1385.34" width="3.31" height="3.71"/><rect x="1954.34" y="1387.20" width="3.71" height="3.31"/><circle cx="1959.51" cy="1387.20" r="1.86"/><rect x="1959.51" y="1385.34" width="3.31" height="3.71"/><circle cx="1962.83" cy="1387.20" r="1.86"/><circle cx="1903.17" cy="1390.51" r="1.86"/><rect x="1903.17" y="1388.66" width="3.31" height="3.71"/><circle cx="1906.49" cy="1390.51" r="1.86"/><circle cx="1913.11" cy="1390.51" r="1.86"/><rect x="1913.11" y="1388.66" width="3.31" height="3.71"/><circle cx="1916.43" cy="1390.51" r="1.86"/><circle cx="1926.37" cy="1390.51" r="1.86"/><rect x="1924.52" y="1390.51" width="3.71" height="3.31"/><circle cx="1933.00" cy="1390.51" r="1.86"/><rect x="1931.14" y="1390.51" width="3.71" height="3.31"/><circle cx="1949.57" cy="1390.51" r="1.86"/><rect x="1949.57" y="1388.66" width="3.31" height="3.71"/><circle cx="1952.89" cy="1390.51" r="1.86"/><rect x="1952.89" y="1388.66" width="3.31" height="3.71"/><circle cx="1956.20" cy="1390.51" r="1.86"/><circle cx="1923.06" cy="1393.83" r="1.86"/><rect x="1923.06" y="1391.97" width="3.31" height="3.71"/><rect x="1921.20" y="1393.83" width="3.71" height="3.31"/><circle cx="1926.37" cy="1393.83" r="1.86"/><rect x="1926.37" y="1391.97" width="3.31" height="3.71"/><circle cx="1929.69" cy="1393.83" r="1.86"/><rect x="1929.69" y="1391.97" width="3.31" height="3.71"/><rect x="1927.83" y="1393.83" width="3.71" height="3.31"/><circle cx="1933.00" cy="1393.83" r="1.86"/><rect x="1933.00" y="1391.97" width="3.31" height="3.71"/><rect x="1931.14" y="1393.83" width="3.71" height="3.31"/><circle cx="1936.31" cy="1393.83" r="1.86"/><circle cx="1959.51" cy="1393.83" r="1.86"/><rect x="1957.66" y="1393.83" width="3.71" height="3.31"/><circle cx="1909.80" cy="1397.14" r="1.86"/><rect x="1907.94" y="1397.14" width="3.71" height="3.31"/><circle cx="1923.06" cy="1397.14" r="1.86"/><circle cx="1929.69" cy="1397.14" r="1.86"/><rect x="1929.69" y="1395.29" width="3.31" height="3.71"/><circle cx="1933.00" cy="1397.14" r="1.86"/><rect x="1931.14" y="1397.14" width="3.71" height="3.31"/><circle cx="1959.51" cy="1397.14" r="1.86"/><rect x="1959.51" y="1395.29" width="3.31" height="3.71"/><circle cx="1962.83" cy="1397.14" r="1.86"/><circle cx="1903.17" cy="1400.46" r="1.86"/><circle cx="1909.80" cy="1400.46" r="1.86"/><rect x="1909.80" y="1398.60" width="3.31" height="3.71"/><circle cx="1913.11" cy="1400.46" r="1.86"/><rect x="1911.26" y="1400.46" width="3.71" height="3.31"/><circle cx="1919.74" cy="1400.46" r="1.86"/><circle cx="1933.00" cy="1400.46" r="1.86"/><circle cx="1946.26" cy="1400.46" r="1.86"/><circle cx="1952.89" cy="1400.46" r="1.86"/><rect x="1952.89" y="1398.60" width="3.31" height="3.71"/><rect x="1951.03" y="1400.46" width="3.71" height="3.31"/><circle cx="1956.20" cy="1400.46" r="1.86"/><circle cx="1899.86" cy="1403.77" r="1.86"/><rect x="1898.00" y="1403.77" width="3.71" height="3.31"/><circle cx="1913.11" cy="1403.77" r="1.86"/><rect x="1913.11" y="1401.92" width="3.31" height="3.71"/><rect x="1911.26" y="1403.77" width="3.71" height="3.31"/><circle cx="1916.43" cy="1403.77" r="1.86"/><circle cx="1923.06" cy="1403.77" r="1.86"/><rect x="1923.06" y="1401.92" width="3.31" height="3.71"/><circle cx="1926.37" cy="1403.77" r="1.86"/><rect x="1926.37" y="1401.92" width="3.31" height="3.71"/><rect x="1924.52" y="1403.77" width="3.71" height="3.31"/><circle cx="1929.69" cy="1403.77" r="1.86"/><rect x="1927.83" y="1403.77" width="3.71" height="3.31"/><circle cx="1942.94" cy="1403.77" r="1.86"/><rect x="1941.09" y="1403.77" width="3.71" height="3.31"/><circle cx="1952.89" cy="1403.77" r="1.86"/><circle cx="1962.83" cy="1403.77" r="1.86"/><circle cx="1969.46" cy="1403.77" r="1.86"/><circle cx="1982.71" cy="1403.77" r="1.86"/><rect x="1980.86" y="1403.77" width="3.71" height="3.31"/><circle cx="1876.66" cy="1407.09" r="1.86"/><rect x="1876.66" y="1405.23" width="3.31" height="3.71"/><circle cx="1879.97" cy="1407.09" r="1.86"/><rect x="1879.97" y="1405.23" width="3.31" height="3.71"/><circle cx="1883.29" cy="1407.09" r="1.86"/><rect x="1881.43" y="1407.09" width="3.71" height="3.31"/><circle cx="1889.91" cy="1407.09" r="1.86"/><rect x="1888.06" y="1407.09" width="3.71" height="3.31"/><circle cx="1899.86" cy="1407.09" r="1.86"/><rect x="1899.86" y="1405.23" width="3.31" height="3.71"/><rect x="1898.00" y="1407.09" width="3.71" height="3.31"/><circle cx="1903.17" cy="1407.09" r="1.86"/><circle cx="1913.11" cy="1407.09" r="1.86"/><rect x="1911.26" y="1407.09" width="3.71" height="3.31"/><circle cx="1926.37" cy="1407.09" r="1.86"/><rect x="1926.37" y="1405.23" width="3.31" height="3.71"/><rect x="1924.52" y="1407.09" width="3.71" height="3.31"/><circle cx="1929.69" cy="1407.09" r="1.86"/><rect x="1929.69" y="1405.23" width="3.31" height="3.71"/><rect x="1927.83" y="1407.09" width="3.71" height="3.31"/><circle cx="1933.00" cy="1407.09" r="1.86"/><rect x="1931.14" y="1407.09" width="3.71" height="3.31"/><circle cx="1939.63" cy="1407.09" r="1.86"/><rect x="1939.63" y="1405.23" width="3.31" height="3.71"/><rect x="1937.77" y="1407.09" width="3.71" height="3.31"/><circle cx="1942.94" cy="1407.09" r="1.86"/><rect x="1942.94" y="1405.23" width="3.31" height="3.71"/><circle cx="1946.26" cy="1407.09" r="1.86"/><rect x="1944.40" y="1407.09" width="3.71" height="3.31"/><circle cx="1956.20" cy="1407.09" r="1.86"/><rect x="1956.20" y="1405.23" width="3.31" height="3.71"/><rect x="1954.34" y="1407.09" width="3.71" height="3.31"/><circle cx="1959.51" cy="1407.09" r="1.86"/><rect x="1957.66" y="1407.09" width="3.71" height="3.31"/><circle cx="1972.77" cy="1407.09" r="1.86"/><rect x="1972.77" y="1405.23" width="3.31" height="3.71"/><circle cx="1976.09" cy="1407.09" r="1.86"/><rect x="1974.23" y="1407.09" width="3.71" height="3.31"/><circle cx="1982.71" cy="1407.09" r="1.86"/><rect x="1982.71" y="1405.23" width="3.31" height="3.71"/><circle cx="1986.03" cy="1407.09" r="1.86"/><rect x="1984.17" y="1407.09" width="3.71" height="3.31"/><circle cx="1883.29" cy="1410.40" r="1.86"/><circle cx="1889.91" cy="1410.40" r="1.86"/><circle cx="1899.86" cy="1410.40" r="1.86"/><rect x="1898.00" y="1410.40" width="3.71" height="3.31"/><circle cx="1909.80" cy="1410.40" r="1.86"/><rect x="1909.80" y="1408.54" width="3.31" height="3.71"/><circle cx="1913.11" cy="1410.40" r="1.86"/><rect x="1911.26" y="1410.40" width="3.71" height="3.31"/><circle cx="1919.74" cy="1410.40" r="1.86"/><rect x="1919.74" y="1408.54" width="3.31" height="3.71"/><rect x="1917.89" y="1410.40" width="3.71" height="3.31"/><circle cx="1923.06" cy="1410.40" r="1.86"/><rect x="1923.06" y="1408.54" width="3.31" height="3.71"/><rect x="1921.20" y="1410.40" width="3.71" height="3.31"/><circle cx="1926.37" cy="1410.40" r="1.86"/><rect x="1926.37" y="1408.54" width="3.31" height="3.71"/><rect x="1924.52" y="1410.40" width="3.71" height="3.31"/><circle cx="1929.69" cy="1410.40" r="1.86"/><rect x="1929.69" y="1408.54" width="3.31" height="3.71"/><circle cx="1933.00" cy="1410.40" r="1.86"/><rect x="1933.00" y="1408.54" width="3.31" height="3.71"/><rect x="1931.14" y="1410.40" width="3.71" height="3.31"/><circle cx="1936.31" cy="1410.40" r="1.86"/><rect x="1936.31" y="1408.54" width="3.31" height="3.71"/><rect x="1934.46" y="1410.40" width="3.71" height="3.31"/><circle cx="1939.63" cy="1410.40" r="1.86"/><rect x="1937.77" y="1410.40" width="3.71" height="3.31"/><circle cx="1946.26" cy="1410.40" r="1.86"/><circle cx="1952.89" cy="1410.40" r="1.86"/><rect x="1952.89" y="1408.54" width="3.31" height="3.71"/><rect x="1951.03" y="1410.40" width="3.71" height="3.31"/><circle cx="1956.20" cy="1410.40" r="1.86"/><rect x="1956.20" y="1408.54" width="3.31" height="3.71"/><rect x="1954.34" y="1410.40" width="3.71" height="3.31"/><circle cx="1959.51" cy="1410.40" r="1.86"/><rect x="1959.51" y="1408.54" width="3.31" height="3.71"/><rect x="1957.66" y="1410.40" width="3.71" height="3.31"/><circle cx="1962.83" cy="1410.40" r="1.86"/><rect x="1962.83" y="1408.54" width="3.31" height="3.71"/><circle cx="1966.14" cy="1410.40" r="1.86"/><rect x="1964.29" y="1410.40" width="3.71" height="3.31"/><circle cx="1976.09" cy="1410.40" r="1.86"/><circle cx="1986.03" cy="1410.40" r="1.86"/><rect x="1984.17" y="1410.40" width="3.71" height="3.31"/><circle cx="1886.60" cy="1413.71" r="1.86"/><rect x="1884.74" y="1413.71" width="3.71" height="3.31"/><circle cx="1899.86" cy="1413.71" r="1.86"/><circle cx="1913.11" cy="1413.71" r="1.86"/><rect x="1913.11" y="1411.86" width="3.31" height="3.71"/><rect x="1911.26" y="1413.71" width="3.71" height="3.31"/><circle cx="1916.43" cy="1413.71" r="1.86"/><rect x="1916.43" y="1411.86" width="3.31" height="3.71"/><rect x="1914.57" y="1413.71" width="3.71" height="3.31"/><circle cx="1919.74" cy="1413.71" r="1.86"/><rect x="1919.74" y="1411.86" width="3.31" height="3.71"/><rect x="1917.89" y="1413.71" width="3.71" height="3.31"/><circle cx="1923.06" cy="1413.71" r="1.86"/><rect x="1923.06" y="1411.86" width="3.31" height="3.71"/><rect x="1921.20" y="1413.71" width="3.71" height="3.31"/><circle cx="1926.37" cy="1413.71" r="1.86"/><rect x="1924.52" y="1413.71" width="3.71" height="3.31"/><circle cx="1933.00" cy="1413.71" r="1.86"/><rect x="1933.00" y="1411.86" width="3.31" height="3.71"/><circle cx="1936.31" cy="1413.71" r="1.86"/><rect x="1936.31" y="1411.86" width="3.31" height="3.71"/><circle cx="1939.63" cy="1413.71" r="1.86"/><circle cx="1952.89" cy="1413.71" r="1.86"/><rect x="1952.89" y="1411.86" width="3.31" height="3.71"/><rect x="1951.03" y="1413.71" width="3.71" height="3.31"/><circle cx="1956.20" cy="1413.71" r="1.86"/><rect x="1956.20" y="1411.86" width="3.31" height="3.71"/><circle cx="1959.51" cy="1413.71" r="1.86"/><rect x="1957.66" y="1413.71" width="3.71" height="3.31"/><circle cx="1966.14" cy="1413.71" r="1.86"/><circle cx="1972.77" cy="1413.71" r="1.86"/><circle cx="1986.03" cy="1413.71" r="1.86"/><circle cx="1876.66" cy="1417.03" r="1.86"/><rect x="1876.66" y="1415.17" width="3.31" height="3.71"/><circle cx="1879.97" cy="1417.03" r="1.86"/><rect x="1879.97" y="1415.17" width="3.31" height="3.71"/><circle cx="1883.29" cy="1417.03" r="1.86"/><rect x="1883.29" y="1415.17" width="3.31" height="3.71"/><circle cx="1886.60" cy="1417.03" r="1.86"/><circle cx="1896.54" cy="1417.03" r="1.86"/><circle cx="1903.17" cy="1417.03" r="1.86"/><rect x="1903.17" y="1415.17" width="3.31" height="3.71"/><circle cx="1906.49" cy="1417.03" r="1.86"/><rect x="1906.49" y="1415.17" width="3.31" height="3.71"/><rect x="1904.63" y="1417.03" width="3.71" height="3.31"/><circle cx="1909.80" cy="1417.03" r="1.86"/><rect x="1909.80" y="1415.17" width="3.31" height="3.71"/><rect x="1907.94" y="1417.03" width="3.71" height="3.31"/><circle cx="1913.11" cy="1417.03" r="1.86"/><rect x="1913.11" y="1415.17" width="3.31" height="3.71"/><rect x="1911.26" y="1417.03" width="3.71" height="3.31"/><circle cx="1916.43" cy="1417.03" r="1.86"/><rect x="1916.43" y="1415.17" width="3.31" height="3.71"/><rect x="1914.57" y="1417.03" width="3.71" height="3.31"/><circle cx="1919.74" cy="1417.03" r="1.86"/><rect x="1919.74" y="1415.17" width="3.31" height="3.71"/><circle cx="1923.06" cy="1417.03" r="1.86"/><rect x="1923.06" y="1415.17" width="3.31" height="3.71"/><circle cx="1926.37" cy="1417.03" r="1.86"/><circle cx="1949.57" cy="1417.03" r="1.86"/><rect x="1949.57" y="1415.17" width="3.31" height="3.71"/><circle cx="1952.89" cy="1417.03" r="1.86"/><circle cx="1959.51" cy="1417.03" r="1.86"/><circle cx="1969.46" cy="1417.03" r="1.86"/><rect x="1967.60" y="1417.03" width="3.71" height="3.31"/><circle cx="1989.34" cy="1417.03" r="1.86"/><circle cx="1906.49" cy="1420.34" r="1.86"/><rect x="1906.49" y="1418.49" width="3.31" height="3.71"/><rect x="1904.63" y="1420.34" width="3.71" height="3.31"/><circle cx="1909.80" cy="1420.34" r="1.86"/><rect x="1909.80" y="1418.49" width="3.31" height="3.71"/><circle cx="1913.11" cy="1420.34" r="1.86"/><rect x="1913.11" y="1418.49" width="3.31" height="3.71"/><rect x="1911.26" y="1420.34" width="3.71" height="3.31"/><circle cx="1916.43" cy="1420.34" r="1.86"/><circle cx="1962.83" cy="1420.34" r="1.86"/><circle cx="1969.46" cy="1420.34" r="1.86"/><rect x="1969.46" y="1418.49" width="3.31" height="3.71"/><rect x="1967.60" y="1420.34" width="3.71" height="3.31"/><circle cx="1972.77" cy="1420.34" r="1.86"/><rect x="1972.77" y="1418.49" width="3.31" height="3.71"/><circle cx="1976.09" cy="1420.34" r="1.86"/><circle cx="1982.71" cy="1420.34" r="1.86"/><circle cx="1879.97" cy="1423.66" r="1.86"/><rect x="1878.12" y="1423.66" width="3.71" height="3.31"/><circle cx="1899.86" cy="1423.66" r="1.86"/><rect x="1899.86" y="1421.80" width="3.31" height="3.71"/><circle cx="1903.17" cy="1423.66" r="1.86"/><rect x="1903.17" y="1421.80" width="3.31" height="3.71"/><circle cx="1906.49" cy="1423.66" r="1.86"/><circle cx="1913.11" cy="1423.66" r="1.86"/><rect x="1911.26" y="1423.66" width="3.71" height="3.31"/><circle cx="1952.89" cy="1423.66" r="1.86"/><rect x="1951.03" y="1423.66" width="3.71" height="3.31"/><circle cx="1959.51" cy="1423.66" r="1.86"/><circle cx="1969.46" cy="1423.66" r="1.86"/><circle cx="1986.03" cy="1423.66" r="1.86"/><rect x="1986.03" y="1421.80" width="3.31" height="3.71"/><circle cx="1989.34" cy="1423.66" r="1.86"/><circle cx="1879.97" cy="1426.97" r="1.86"/><rect x="1878.12" y="1426.97" width="3.71" height="3.31"/><circle cx="1886.60" cy="1426.97" r="1.86"/><rect x="1884.74" y="1426.97" width="3.71" height="3.31"/><circle cx="1896.54" cy="1426.97" r="1.86"/><rect x="1894.69" y="1426.97" width="3.71" height="3.31"/><circle cx="1913.11" cy="1426.97" r="1.86"/><rect x="1911.26" y="1426.97" width="3.71" height="3.31"/><circle cx="1952.89" cy="1426.97" r="1.86"/><circle cx="1962.83" cy="1426.97" r="1.86"/><rect x="1960.97" y="1426.97" width="3.71" height="3.31"/><circle cx="1976.09" cy="1426.97" r="1.86"/><rect x="1976.09" y="1425.12" width="3.31" height="3.71"/><circle cx="1979.40" cy="1426.97" r="1.86"/><rect x="1979.40" y="1425.12" width="3.31" height="3.71"/><rect x="1977.54" y="1426.97" width="3.71" height="3.31"/><circle cx="1982.71" cy="1426.97" r="1.86"/><rect x="1980.86" y="1426.97" width="3.71" height="3.31"/><circle cx="1876.66" cy="1430.29" r="1.86"/><rect x="1876.66" y="1428.43" width="3.31" height="3.71"/><rect x="1874.80" y="1430.29" width="3.71" height="3.31"/><circle cx="1879.97" cy="1430.29" r="1.86"/><rect x="1879.97" y="1428.43" width="3.31" height="3.71"/><circle cx="1883.29" cy="1430.29" r="1.86"/><rect x="1883.29" y="1428.43" width="3.31" height="3.71"/><rect x="1881.43" y="1430.29" width="3.71" height="3.31"/><circle cx="1886.60" cy="1430.29" r="1.86"/><rect x="1886.60" y="1428.43" width="3.31" height="3.71"/><circle cx="1889.91" cy="1430.29" r="1.86"/><rect x="1888.06" y="1430.29" width="3.71" height="3.31"/><circle cx="1896.54" cy="1430.29" r="1.86"/><rect x="1894.69" y="1430.29" width="3.71" height="3.31"/><circle cx="1903.17" cy="1430.29" r="1.86"/><rect x="1903.17" y="1428.43" width="3.31" height="3.71"/><circle cx="1906.49" cy="1430.29" r="1.86"/><circle cx="1913.11" cy="1430.29" r="1.86"/><rect x="1913.11" y="1428.43" width="3.31" height="3.71"/><circle cx="1916.43" cy="1430.29" r="1.86"/><circle cx="1962.83" cy="1430.29" r="1.86"/><rect x="1962.83" y="1428.43" width="3.31" height="3.71"/><circle cx="1966.14" cy="1430.29" r="1.86"/><rect x="1964.29" y="1430.29" width="3.71" height="3.31"/><circle cx="1972.77" cy="1430.29" r="1.86"/><rect x="1970.92" y="1430.29" width="3.71" height="3.31"/><circle cx="1979.40" cy="1430.29" r="1.86"/><rect x="1979.40" y="1428.43" width="3.31" height="3.71"/><circle cx="1982.71" cy="1430.29" r="1.86"/><rect x="1980.86" y="1430.29" width="3.71" height="3.31"/><circle cx="1876.66" cy="1433.60" r="1.86"/><circle cx="1883.29" cy="1433.60" r="1.86"/><rect x="1881.43" y="1433.60" width="3.71" height="3.31"/><circle cx="1889.91" cy="1433.60" r="1.86"/><rect x="1889.91" y="1431.74" width="3.31" height="3.71"/><rect x="1888.06" y="1433.60" width="3.71" height="3.31"/><circle cx="1893.23" cy="1433.60" r="1.86"/><rect x="1893.23" y="1431.74" width="3.31" height="3.71"/><circle cx="1896.54" cy="1433.60" r="1.86"/><rect x="1896.54" y="1431.74" width="3.31" height="3.71"/><circle cx="1899.86" cy="1433.60" r="1.86"/><circle cx="1909.80" cy="1433.60" r="1.86"/><rect x="1907.94" y="1433.60" width="3.71" height="3.31"/><circle cx="1956.20" cy="1433.60" r="1.86"/><rect x="1956.20" y="1431.74" width="3.31" height="3.71"/><circle cx="1959.51" cy="1433.60" r="1.86"/><circle cx="1966.14" cy="1433.60" r="1.86"/><rect x="1966.14" y="1431.74" width="3.31" height="3.71"/><circle cx="1969.46" cy="1433.60" r="1.86"/><rect x="1969.46" y="1431.74" width="3.31" height="3.71"/><circle cx="1972.77" cy="1433.60" r="1.86"/><rect x="1972.77" y="1431.74" width="3.31" height="3.71"/><circle cx="1976.09" cy="1433.60" r="1.86"/><circle cx="1982.71" cy="1433.60" r="1.86"/><rect x="1980.86" y="1433.60" width="3.71" height="3.31"/><circle cx="1879.97" cy="1436.91" r="1.86"/><rect x="1879.97" y="1435.06" width="3.31" height="3.71"/><circle cx="1883.29" cy="1436.91" r="1.86"/><rect x="1883.29" y="1435.06" width="3.31" height="3.71"/><rect x="1881.43" y="1436.91" width="3.71" height="3.31"/><circle cx="1886.60" cy="1436.91" r="1.86"/><rect x="1886.60" y="1435.06" width="3.31" height="3.71"/><rect x="1884.74" y="1436.91" width="3.71" height="3.31"/><circle cx="1889.91" cy="1436.91" r="1.86"/><rect x="1888.06" y="1436.91" width="3.71" height="3.31"/><circle cx="1906.49" cy="1436.91" r="1.86"/><rect x="1906.49" y="1435.06" width="3.31" height="3.71"/><circle cx="1909.80" cy="1436.91" r="1.86"/><circle cx="1949.57" cy="1436.91" r="1.86"/><rect x="1949.57" y="1435.06" width="3.31" height="3.71"/><rect x="1947.72" y="1436.91" width="3.71" height="3.31"/><circle cx="1952.89" cy="1436.91" r="1.86"/><circle cx="1982.71" cy="1436.91" r="1.86"/><circle cx="1989.34" cy="1436.91" r="1.86"/><rect x="1987.49" y="1436.91" width="3.71" height="3.31"/><circle cx="1883.29" cy="1440.23" r="1.86"/><rect x="1883.29" y="1438.37" width="3.31" height="3.71"/><circle cx="1886.60" cy="1440.23" r="1.86"/><rect x="1886.60" y="1438.37" width="3.31" height="3.71"/><rect x="1884.74" y="1440.23" width="3.71" height="3.31"/><circle cx="1889.91" cy="1440.23" r="1.86"/><circle cx="1899.86" cy="1440.23" r="1.86"/><rect x="1899.86" y="1438.37" width="3.31" height="3.71"/><rect x="1898.00" y="1440.23" width="3.71" height="3.31"/><circle cx="1903.17" cy="1440.23" r="1.86"/><circle cx="1913.11" cy="1440.23" r="1.86"/><rect x="1913.11" y="1438.37" width="3.31" height="3.71"/><rect x="1911.26" y="1440.23" width="3.71" height="3.31"/><circle cx="1916.43" cy="1440.23" r="1.86"/><rect x="1914.57" y="1440.23" width="3.71" height="3.31"/><circle cx="1949.57" cy="1440.23" r="1.86"/><rect x="1947.72" y="1440.23" width="3.71" height="3.31"/><circle cx="1959.51" cy="1440.23" r="1.86"/><rect x="1959.51" y="1438.37" width="3.31" height="3.71"/><circle cx="1962.83" cy="1440.23" r="1.86"/><rect x="1960.97" y="1440.23" width="3.71" height="3.31"/><circle cx="1972.77" cy="1440.23" r="1.86"/><rect x="1972.77" y="1438.37" width="3.31" height="3.71"/><rect x="1970.92" y="1440.23" width="3.71" height="3.31"/><circle cx="1976.09" cy="1440.23" r="1.86"/><circle cx="1986.03" cy="1440.23" r="1.86"/><rect x="1986.03" y="1438.37" width="3.31" height="3.71"/><circle cx="1989.34" cy="1440.23" r="1.86"/><circle cx="1876.66" cy="1443.54" r="1.86"/><rect x="1876.66" y="1441.69" width="3.31" height="3.71"/><rect x="1874.80" y="1443.54" width="3.71" height="3.31"/><circle cx="1879.97" cy="1443.54" r="1.86"/><rect x="1878.12" y="1443.54" width="3.71" height="3.31"/><circle cx="1886.60" cy="1443.54" r="1.86"/><circle cx="1899.86" cy="1443.54" r="1.86"/><rect x="1898.00" y="1443.54" width="3.71" height="3.31"/><circle cx="1906.49" cy="1443.54" r="1.86"/><rect x="1904.63" y="1443.54" width="3.71" height="3.31"/><circle cx="1913.11" cy="1443.54" r="1.86"/><rect x="1913.11" y="1441.69" width="3.31" height="3.71"/><rect x="1911.26" y="1443.54" width="3.71" height="3.31"/><circle cx="1916.43" cy="1443.54" r="1.86"/><rect x="1914.57" y="1443.54" width="3.71" height="3.31"/><circle cx="1949.57" cy="1443.54" r="1.86"/><rect x="1949.57" y="1441.69" width="3.31" height="3.71"/><circle cx="1952.89" cy="1443.54" r="1.86"/><rect x="1952.89" y="1441.69" width="3.31" height="3.71"/><rect x="1951.03" y="1443.54" width="3.71" height="3.31"/><circle cx="1956.20" cy="1443.54" r="1.86"/><circle cx="1962.83" cy="1443.54" r="1.86"/><rect x="1962.83" y="1441.69" width="3.31" height="3.71"/><rect x="1960.97" y="1443.54" width="3.71" height="3.31"/><circle cx="1966.14" cy="1443.54" r="1.86"/><rect x="1966.14" y="1441.69" width="3.31" height="3.71"/><circle cx="1969.46" cy="1443.54" r="1.86"/><rect x="1969.46" y="1441.69" width="3.31" height="3.71"/><rect x="1967.60" y="1443.54" width="3.71" height="3.31"/><circle cx="1972.77" cy="1443.54" r="1.86"/><rect x="1970.92" y="1443.54" width="3.71" height="3.31"/><circle cx="1876.66" cy="1446.86" r="1.86"/><rect x="1876.66" y="1445.00" width="3.31" height="3.71"/><circle cx="1879.97" cy="1446.86" r="1.86"/><rect x="1878.12" y="1446.86" width="3.71" height="3.31"/><circle cx="1889.91" cy="1446.86" r="1.86"/><rect x="1888.06" y="1446.86" width="3.71" height="3.31"/><circle cx="1896.54" cy="1446.86" r="1.86"/><rect x="1896.54" y="1445.00" width="3.31" height="3.71"/><circle cx="1899.86" cy="1446.86" r="1.86"/><rect x="1899.86" y="1445.00" width="3.31" height="3.71"/><circle cx="1903.17" cy="1446.86" r="1.86"/><rect x="1903.17" y="1445.00" width="3.31" height="3.71"/><rect x="1901.32" y="1446.86" width="3.71" height="3.31"/><circle cx="1906.49" cy="1446.86" r="1.86"/><rect x="1906.49" y="1445.00" width="3.31" height="3.71"/><circle cx="1909.80" cy="1446.86" r="1.86"/><rect x="1909.80" y="1445.00" width="3.31" height="3.71"/><rect x="1907.94" y="1446.86" width="3.71" height="3.31"/><circle cx="1913.11" cy="1446.86" r="1.86"/><rect x="1913.11" y="1445.00" width="3.31" height="3.71"/><rect x="1911.26" y="1446.86" width="3.71" height="3.31"/><circle cx="1916.43" cy="1446.86" r="1.86"/><rect x="1914.57" y="1446.86" width="3.71" height="3.31"/><circle cx="1952.89" cy="1446.86" r="1.86"/><rect x="1951.03" y="1446.86" width="3.71" height="3.31"/><circle cx="1959.51" cy="1446.86" r="1.86"/><rect x="1959.51" y="1445.00" width="3.31" height="3.71"/><circle cx="1962.83" cy="1446.86" r="1.86"/><circle cx="1969.46" cy="1446.86" r="1.86"/><rect x="1969.46" y="1445.00" width="3.31" height="3.71"/><circle cx="1972.77" cy="1446.86" r="1.86"/><circle cx="1982.71" cy="1446.86" r="1.86"/><rect x="1982.71" y="1445.00" width="3.31" height="3.71"/><circle cx="1986.03" cy="1446.86" r="1.86"/><rect x="1986.03" y="1445.00" width="3.31" height="3.71"/><rect x="1984.17" y="1446.86" width="3.71" height="3.31"/><circle cx="1989.34" cy="1446.86" r="1.86"/><rect x="1987.49" y="1446.86" width="3.71" height="3.31"/><circle cx="1879.97" cy="1450.17" r="1.86"/><circle cx="1889.91" cy="1450.17" r="1.86"/><rect x="1889.91" y="1448.32" width="3.31" height="3.71"/><circle cx="1893.23" cy="1450.17" r="1.86"/><rect x="1891.37" y="1450.17" width="3.71" height="3.31"/><circle cx="1903.17" cy="1450.17" r="1.86"/><circle cx="1909.80" cy="1450.17" r="1.86"/><rect x="1909.80" y="1448.32" width="3.31" height="3.71"/><circle cx="1913.11" cy="1450.17" r="1.86"/><rect x="1913.11" y="1448.32" width="3.31" height="3.71"/><circle cx="1916.43" cy="1450.17" r="1.86"/><circle cx="1936.31" cy="1450.17" r="1.86"/><circle cx="1949.57" cy="1450.17" r="1.86"/><rect x="1949.57" y="1448.32" width="3.31" height="3.71"/><circle cx="1952.89" cy="1450.17" r="1.86"/><rect x="1952.89" y="1448.32" width="3.31" height="3.71"/><circle cx="1956.20" cy="1450.17" r="1.86"/><circle cx="1966.14" cy="1450.17" r="1.86"/><circle cx="1986.03" cy="1450.17" r="1.86"/><rect x="1986.03" y="1448.32" width="3.31" height="3.71"/><rect x="1984.17" y="1450.17" width="3.71" height="3.31"/><circle cx="1989.34" cy="1450.17" r="1.86"/><rect x="1987.49" y="1450.17" width="3.71" height="3.31"/><circle cx="1876.66" cy="1453.49" r="1.86"/><rect x="1874.80" y="1453.49" width="3.71" height="3.31"/><circle cx="1883.29" cy="1453.49" r="1.86"/><rect x="1883.29" y="1451.63" width="3.31" height="3.71"/><circle cx="1886.60" cy="1453.49" r="1.86"/><rect x="1884.74" y="1453.49" width="3.71" height="3.31"/><circle cx="1893.23" cy="1453.49" r="1.86"/><rect x="1893.23" y="1451.63" width="3.31" height="3.71"/><circle cx="1896.54" cy="1453.49" r="1.86"/><rect x="1896.54" y="1451.63" width="3.31" height="3.71"/><circle cx="1899.86" cy="1453.49" r="1.86"/><rect x="1898.00" y="1453.49" width="3.71" height="3.31"/><circle cx="1906.49" cy="1453.49" r="1.86"/><circle cx="1919.74" cy="1453.49" r="1.86"/><rect x="1919.74" y="1451.63" width="3.31" height="3.71"/><circle cx="1923.06" cy="1453.49" r="1.86"/><rect x="1923.06" y="1451.63" width="3.31" height="3.71"/><circle cx="1926.37" cy="1453.49" r="1.86"/><circle cx="1939.63" cy="1453.49" r="1.86"/><rect x="1939.63" y="1451.63" width="3.31" height="3.71"/><rect x="1937.77" y="1453.49" width="3.71" height="3.31"/><circle cx="1942.94" cy="1453.49" r="1.86"/><circle cx="1962.83" cy="1453.49" r="1.86"/><rect x="1960.97" y="1453.49" width="3.71" height="3.31"/><circle cx="1969.46" cy="1453.49" r="1.86"/><circle cx="1976.09" cy="1453.49" r="1.86"/><circle cx="1982.71" cy="1453.49" r="1.86"/><rect x="1982.71" y="1451.63" width="3.31" height="3.71"/><rect x="1980.86" y="1453.49" width="3.71" height="3.31"/><circle cx="1986.03" cy="1453.49" r="1.86"/><rect x="1986.03" y="1451.63" width="3.31" height="3.71"/><rect x="1984.17" y="1453.49" width="3.71" height="3.31"/><circle cx="1989.34" cy="1453.49" r="1.86"/><rect x="1987.49" y="1453.49" width="3.71" height="3.31"/><circle cx="1876.66" cy="1456.80" r="1.86"/><rect x="1874.80" y="1456.80" width="3.71" height="3.31"/><circle cx="1886.60" cy="1456.80" r="1.86"/><rect x="1886.60" y="1454.94" width="3.31" height="3.71"/><circle cx="1889.91" cy="1456.80" r="1.86"/><rect x="1888.06" y="1456.80" width="3.71" height="3.31"/><circle cx="1899.86" cy="1456.80" r="1.86"/><circle cx="1913.11" cy="1456.80" r="1.86"/><circle cx="1929.69" cy="1456.80" r="1.86"/><rect x="1929.69" y="1454.94" width="3.31" height="3.71"/><circle cx="1933.00" cy="1456.80" r="1.86"/><rect x="1933.00" y="1454.94" width="3.31" height="3.71"/><circle cx="1936.31" cy="1456.80" r="1.86"/><rect x="1936.31" y="1454.94" width="3.31" height="3.71"/><rect x="1934.46" y="1456.80" width="3.71" height="3.31"/><circle cx="1939.63" cy="1456.80" r="1.86"/><rect x="1937.77" y="1456.80" width="3.71" height="3.31"/><circle cx="1952.89" cy="1456.80" r="1.86"/><rect x="1951.03" y="1456.80" width="3.71" height="3.31"/><circle cx="1962.83" cy="1456.80" r="1.86"/><circle cx="1972.77" cy="1456.80" r="1.86"/><circle cx="1982.71" cy="1456.80" r="1.86"/><rect x="1982.71" y="1454.94" width="3.31" height="3.71"/><rect x="1980.86" y="1456.80" width="3.71" height="3.31"/><circle cx="1986.03" cy="1456.80" r="1.86"/><rect x="1986.03" y="1454.94" width="3.31" height="3.71"/><circle cx="1989.34" cy="1456.80" r="1.86"/><rect x="1987.49" y="1456.80" width="3.71" height="3.31"/><circle cx="1876.66" cy="1460.11" r="1.86"/><rect x="1876.66" y="1458.26" width="3.31" height="3.71"/><rect x="1874.80" y="1460.11" width="3.71" height="3.31"/><circle cx="1879.97" cy="1460.11" r="1.86"/><circle cx="1889.91" cy="1460.11" r="1.86"/><rect x="1889.91" y="1458.26" width="3.31" height="3.71"/><rect x="1888.06" y="1460.11" width="3.71" height="3.31"/><circle cx="1893.23" cy="1460.11" r="1.86"/><rect x="1893.23" y="1458.26" width="3.31" height="3.71"/><circle cx="1896.54" cy="1460.11" r="1.86"/><circle cx="1903.17" cy="1460.11" r="1.86"/><rect x="1903.17" y="1458.26" width="3.31" height="3.71"/><rect x="1901.32" y="1460.11" width="3.71" height="3.31"/><circle cx="1906.49" cy="1460.11" r="1.86"/><rect x="1906.49" y="1458.26" width="3.31" height="3.71"/><circle cx="1909.80" cy="1460.11" r="1.86"/><circle cx="1919.74" cy="1460.11" r="1.86"/><rect x="1919.74" y="1458.26" width="3.31" height="3.71"/><circle cx="1923.06" cy="1460.11" r="1.86"/><rect x="1923.06" y="1458.26" width="3.31" height="3.71"/><rect x="1921.20" y="1460.11" width="3.71" height="3.31"/><circle cx="1926.37" cy="1460.11" r="1.86"/><circle cx="1936.31" cy="1460.11" r="1.86"/><rect x="1936.31" y="1458.26" width="3.31" height="3.71"/><circle cx="1939.63" cy="1460.11" r="1.86"/><circle cx="1946.26" cy="1460.11" r="1.86"/><rect x="1946.26" y="1458.26" width="3.31" height="3.71"/><circle cx="1949.57" cy="1460.11" r="1.86"/><rect x="1949.57" y="1458.26" width="3.31" height="3.71"/><circle cx="1952.89" cy="1460.11" r="1.86"/><circle cx="1959.51" cy="1460.11" r="1.86"/><rect x="1957.66" y="1460.11" width="3.71" height="3.31"/><circle cx="1966.14" cy="1460.11" r="1.86"/><rect x="1966.14" y="1458.26" width="3.31" height="3.71"/><circle cx="1969.46" cy="1460.11" r="1.86"/><circle cx="1979.40" cy="1460.11" r="1.86"/><rect x="1979.40" y="1458.26" width="3.31" height="3.71"/><rect x="1977.54" y="1460.11" width="3.71" height="3.31"/><circle cx="1982.71" cy="1460.11" r="1.86"/><circle cx="1989.34" cy="1460.11" r="1.86"/><circle cx="1876.66" cy="1463.43" r="1.86"/><circle cx="1883.29" cy="1463.43" r="1.86"/><circle cx="1889.91" cy="1463.43" r="1.86"/><circle cx="1899.86" cy="1463.43" r="1.86"/><rect x="1899.86" y="1461.57" width="3.31" height="3.71"/><circle cx="1903.17" cy="1463.43" r="1.86"/><rect x="1901.32" y="1463.43" width="3.71" height="3.31"/><circle cx="1916.43" cy="1463.43" r="1.86"/><rect x="1914.57" y="1463.43" width="3.71" height="3.31"/><circle cx="1923.06" cy="1463.43" r="1.86"/><circle cx="1929.69" cy="1463.43" r="1.86"/><rect x="1929.69" y="1461.57" width="3.31" height="3.71"/><circle cx="1933.00" cy="1463.43" r="1.86"/><circle cx="1942.94" cy="1463.43" r="1.86"/><rect x="1941.09" y="1463.43" width="3.71" height="3.31"/><circle cx="1956.20" cy="1463.43" r="1.86"/><rect x="1956.20" y="1461.57" width="3.31" height="3.71"/><rect x="1954.34" y="1463.43" width="3.71" height="3.31"/><circle cx="1959.51" cy="1463.43" r="1.86"/><rect x="1957.66" y="1463.43" width="3.71" height="3.31"/><circle cx="1972.77" cy="1463.43" r="1.86"/><circle cx="1979.40" cy="1463.43" r="1.86"/><rect x="1977.54" y="1463.43" width="3.71" height="3.31"/><circle cx="1903.17" cy="1466.74" r="1.86"/><rect x="1901.32" y="1466.74" width="3.71" height="3.31"/><circle cx="1909.80" cy="1466.74" r="1.86"/><rect x="1909.80" y="1464.89" width="3.31" height="3.71"/><circle cx="1913.11" cy="1466.74" r="1.86"/><rect x="1913.11" y="1464.89" width="3.31" height="3.71"/><rect x="1911.26" y="1466.74" width="3.71" height="3.31"/><circle cx="1916.43" cy="1466.74" r="1.86"/><circle cx="1926.37" cy="1466.74" r="1.86"/><circle cx="1936.31" cy="1466.74" r="1.86"/><circle cx="1942.94" cy="1466.74" r="1.86"/><circle cx="1956.20" cy="1466.74" r="1.86"/><rect x="1956.20" y="1464.89" width="3.31" height="3.71"/><circle cx="1959.51" cy="1466.74" r="1.86"/><circle cx="1966.14" cy="1466.74" r="1.86"/><circle cx="1979.40" cy="1466.74" r="1.86"/><rect x="1977.54" y="1466.74" width="3.71" height="3.31"/><circle cx="1989.34" cy="1466.74" r="1.86"/><rect x="1987.49" y="1466.74" width="3.71" height="3.31"/><circle cx="1903.17" cy="1470.06" r="1.86"/><circle cx="1913.11" cy="1470.06" r="1.86"/><circle cx="1919.74" cy="1470.06" r="1.86"/><rect x="1917.89" y="1470.06" width="3.71" height="3.31"/><circle cx="1933.00" cy="1470.06" r="1.86"/><circle cx="1939.63" cy="1470.06" r="1.86"/><rect x="1937.77" y="1470.06" width="3.71" height="3.31"/><circle cx="1946.26" cy="1470.06" r="1.86"/><rect x="1944.40" y="1470.06" width="3.71" height="3.31"/><circle cx="1962.83" cy="1470.06" r="1.86"/><circle cx="1979.40" cy="1470.06" r="1.86"/><circle cx="1989.34" cy="1470.06" r="1.86"/><rect x="1987.49" y="1470.06" width="3.71" height="3.31"/><circle cx="1906.49" cy="1473.37" r="1.86"/><rect x="1906.49" y="1471.52" width="3.31" height="3.71"/><rect x="1904.63" y="1473.37" width="3.71" height="3.31"/><circle cx="1909.80" cy="1473.37" r="1.86"/><circle cx="1916.43" cy="1473.37" r="1.86"/><rect x="1916.43" y="1471.52" width="3.31" height="3.71"/><circle cx="1919.74" cy="1473.37" r="1.86"/><rect x="1919.74" y="1471.52" width="3.31" height="3.71"/><circle cx="1923.06" cy="1473.37" r="1.86"/><rect x="1923.06" y="1471.52" width="3.31" height="3.71"/><rect x="1921.20" y="1473.37" width="3.71" height="3.31"/><circle cx="1926.37" cy="1473.37" r="1.86"/><rect x="1924.52" y="1473.37" width="3.71" height="3.31"/><circle cx="1939.63" cy="1473.37" r="1.86"/><circle cx="1946.26" cy="1473.37" r="1.86"/><circle cx="1956.20" cy="1473.37" r="1.86"/><circle cx="1972.77" cy="1473.37" r="1.86"/><rect x="1970.92" y="1473.37" width="3.71" height="3.31"/><circle cx="1982.71" cy="1473.37" r="1.86"/><circle cx="1989.34" cy="1473.37" r="1.86"/><circle cx="1906.49" cy="1476.69" r="1.86"/><rect x="1904.63" y="1476.69" width="3.71" height="3.31"/><circle cx="1923.06" cy="1476.69" r="1.86"/><rect x="1923.06" y="1474.83" width="3.31" height="3.71"/><rect x="1921.20" y="1476.69" width="3.71" height="3.31"/><circle cx="1926.37" cy="1476.69" r="1.86"/><rect x="1926.37" y="1474.83" width="3.31" height="3.71"/><circle cx="1929.69" cy="1476.69" r="1.86"/><rect x="1929.69" y="1474.83" width="3.31" height="3.71"/><circle cx="1933.00" cy="1476.69" r="1.86"/><circle cx="1949.57" cy="1476.69" r="1.86"/><rect x="1949.57" y="1474.83" width="3.31" height="3.71"/><circle cx="1952.89" cy="1476.69" r="1.86"/><rect x="1951.03" y="1476.69" width="3.71" height="3.31"/><circle cx="1959.51" cy="1476.69" r="1.86"/><rect x="1959.51" y="1474.83" width="3.31" height="3.71"/><rect x="1957.66" y="1476.69" width="3.71" height="3.31"/><circle cx="1962.83" cy="1476.69" r="1.86"/><rect x="1962.83" y="1474.83" width="3.31" height="3.71"/><circle cx="1966.14" cy="1476.69" r="1.86"/><rect x="1966.14" y="1474.83" width="3.31" height="3.71"/><rect x="1964.29" y="1476.69" width="3.71" height="3.31"/><circle cx="1969.46" cy="1476.69" r="1.86"/><rect x="1969.46" y="1474.83" width="3.31" height="3.71"/><circle cx="1972.77" cy="1476.69" r="1.86"/><rect x="1972.77" y="1474.83" width="3.31" height="3.71"/><circle cx="1976.09" cy="1476.69" r="1.86"/><rect x="1974.23" y="1476.69" width="3.71" height="3.31"/><circle cx="1986.03" cy="1476.69" r="1.86"/><circle cx="1906.49" cy="1480.00" r="1.86"/><rect x="1906.49" y="1478.14" width="3.31" height="3.71"/><circle cx="1909.80" cy="1480.00" r="1.86"/><rect x="1909.80" y="1478.14" width="3.31" height="3.71"/><circle cx="1913.11" cy="1480.00" r="1.86"/><circle cx="1923.06" cy="1480.00" r="1.86"/><rect x="1921.20" y="1480.00" width="3.71" height="3.31"/><circle cx="1939.63" cy="1480.00" r="1.86"/><circle cx="1946.26" cy="1480.00" r="1.86"/><circle cx="1952.89" cy="1480.00" r="1.86"/><rect x="1952.89" y="1478.14" width="3.31" height="3.71"/><rect x="1951.03" y="1480.00" width="3.71" height="3.31"/><circle cx="1956.20" cy="1480.00" r="1.86"/><rect x="1956.20" y="1478.14" width="3.31" height="3.71"/><circle cx="1959.51" cy="1480.00" r="1.86"/><circle cx="1966.14" cy="1480.00" r="1.86"/><circle cx="1976.09" cy="1480.00" r="1.86"/><rect x="1976.09" y="1478.14" width="3.31" height="3.71"/><circle cx="1979.40" cy="1480.00" r="1.86"/><rect x="1977.54" y="1480.00" width="3.71" height="3.31"/><circle cx="1903.17" cy="1483.31" r="1.86"/><circle cx="1923.06" cy="1483.31" r="1.86"/><rect x="1923.06" y="1481.46" width="3.31" height="3.71"/><circle cx="1926.37" cy="1483.31" r="1.86"/><rect x="1926.37" y="1481.46" width="3.31" height="3.71"/><circle cx="1929.69" cy="1483.31" r="1.86"/><rect x="1929.69" y="1481.46" width="3.31" height="3.71"/><circle cx="1933.00" cy="1483.31" r="1.86"/><rect x="1933.00" y="1481.46" width="3.31" height="3.71"/><circle cx="1936.31" cy="1483.31" r="1.86"/><circle cx="1952.89" cy="1483.31" r="1.86"/><rect x="1951.03" y="1483.31" width="3.71" height="3.31"/><circle cx="1969.46" cy="1483.31" r="1.86"/><circle cx="1979.40" cy="1483.31" r="1.86"/><rect x="1977.54" y="1483.31" width="3.71" height="3.31"/><circle cx="1986.03" cy="1483.31" r="1.86"/><rect x="1986.03" y="1481.46" width="3.31" height="3.71"/><circle cx="1989.34" cy="1483.31" r="1.86"/><circle cx="1942.94" cy="1486.63" r="1.86"/><rect x="1942.94" y="1484.77" width="3.31" height="3.71"/><circle cx="1946.26" cy="1486.63" r="1.86"/><rect x="1944.40" y="1486.63" width="3.71" height="3.31"/><circle cx="1952.89" cy="1486.63" r="1.86"/><rect x="1951.03" y="1486.63" width="3.71" height="3.31"/><circle cx="1959.51" cy="1486.63" r="1.86"/><rect x="1959.51" y="1484.77" width="3.31" height="3.71"/><rect x="1957.66" y="1486.63" width="3.71" height="3.31"/><circle cx="1962.83" cy="1486.63" r="1.86"/><rect x="1962.83" y="1484.77" width="3.31" height="3.71"/><rect x="1960.97" y="1486.63" width="3.71" height="3.31"/><circle cx="1966.14" cy="1486.63" r="1.86"/><rect x="1964.29" y="1486.63" width="3.71" height="3.31"/><circle cx="1972.77" cy="1486.63" r="1.86"/><rect x="1972.77" y="1484.77" width="3.31" height="3.71"/><rect x="1970.92" y="1486.63" width="3.71" height="3.31"/><circle cx="1976.09" cy="1486.63" r="1.86"/><rect x="1976.09" y="1484.77" width="3.31" height="3.71"/><rect x="1974.23" y="1486.63" width="3.71" height="3.31"/><circle cx="1979.40" cy="1486.63" r="1.86"/><rect x="1979.40" y="1484.77" width="3.31" height="3.71"/><circle cx="1982.71" cy="1486.63" r="1.86"/><rect x="1980.86" y="1486.63" width="3.71" height="3.31"/><circle cx="1903.17" cy="1489.94" r="1.86"/><circle cx="1916.43" cy="1489.94" r="1.86"/><rect x="1916.43" y="1488.09" width="3.31" height="3.71"/><circle cx="1919.74" cy="1489.94" r="1.86"/><rect x="1919.74" y="1488.09" width="3.31" height="3.71"/><circle cx="1923.06" cy="1489.94" r="1.86"/><rect x="1923.06" y="1488.09" width="3.31" height="3.71"/><circle cx="1926.37" cy="1489.94" r="1.86"/><circle cx="1946.26" cy="1489.94" r="1.86"/><rect x="1946.26" y="1488.09" width="3.31" height="3.71"/><circle cx="1949.57" cy="1489.94" r="1.86"/><rect x="1949.57" y="1488.09" width="3.31" height="3.71"/><circle cx="1952.89" cy="1489.94" r="1.86"/><circle cx="1959.51" cy="1489.94" r="1.86"/><rect x="1959.51" y="1488.09" width="3.31" height="3.71"/><circle cx="1962.83" cy="1489.94" r="1.86"/><rect x="1962.83" y="1488.09" width="3.31" height="3.71"/><circle cx="1966.14" cy="1489.94" r="1.86"/><rect x="1966.14" y="1488.09" width="3.31" height="3.71"/><circle cx="1969.46" cy="1489.94" r="1.86"/><rect x="1969.46" y="1488.09" width="3.31" height="3.71"/><circle cx="1972.77" cy="1489.94" r="1.86"/><rect x="1972.77" y="1488.09" width="3.31" height="3.71"/><circle cx="1976.09" cy="1489.94" r="1.86"/><circle cx="1982.71" cy="1489.94" r="1.86"/><rect x="1982.71" y="1488.09" width="3.31" height="3.71"/><circle cx="1986.03" cy="1489.94" r="1.86"/><rect x="1876.66" y="1377.26" width="19.89" height="19.89" rx="5.30" fill="none" stroke="#1e1b4b" stroke-width="3.31"/><circle cx="1886.60" cy="1387.20" r="5.30" fill="#1e1b4b"/><rect x="1969.46" y="1377.26" width="19.89" height="19.89" rx="5.30" fill="none" stroke="#1e1b4b" stroke-width="3.31"/><circle cx="1979.40" cy="1387.20" r="5.30" fill="#1e1b4b"/><rect x="1876.66" y="1470.06" width="19.89" height="19.89" rx="5.30" fill="none" stroke="#1e1b4b" stroke-width="3.31"/><circle cx="1886.60" cy="1480.00" r="5.30" fill="#1e1b4b"/><g fill="#fbfaff" stroke="#b8a6e0" stroke-width="0.9"><circle cx="1926.0" cy="1425.6" r="4.5"/><circle cx="1933.0" cy="1423.6" r="4.5"/><circle cx="1940.0" cy="1425.6" r="4.5"/><circle cx="1923.0" cy="1432.6" r="4.5"/><circle cx="1943.0" cy="1432.6" r="4.5"/><circle cx="1926.0" cy="1440.6" r="4.5"/><circle cx="1933.0" cy="1442.6" r="4.5"/><circle cx="1940.0" cy="1440.6" r="4.5"/><circle cx="1933.0" cy="1433.6" r="10" stroke="none"/></g><g fill="none" stroke="#9c8ad6" stroke-width="1.2"><rect x="1928.5" y="1429.1" width="9" height="9"/><rect x="1931.0" y="1431.6" width="4" height="4"/></g></g>
</svg></body></html>
